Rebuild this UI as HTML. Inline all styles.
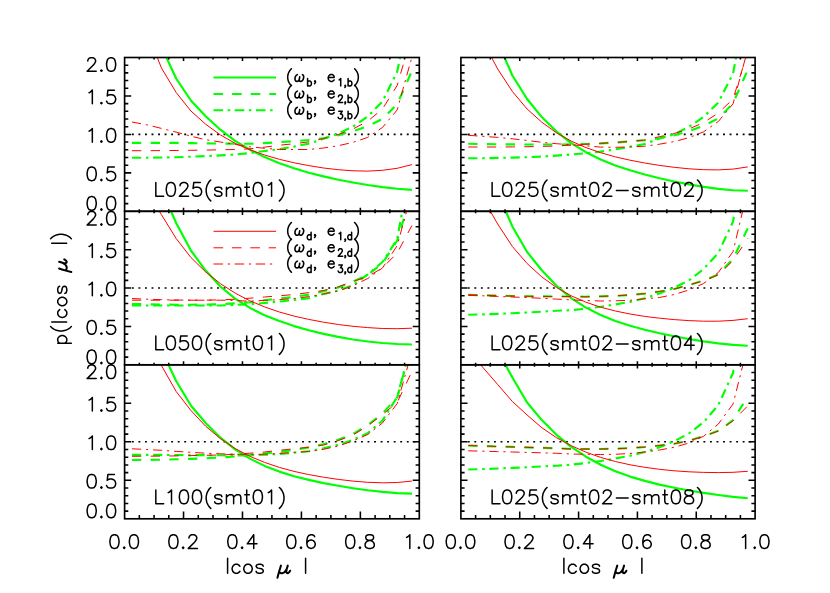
<!DOCTYPE html>
<html><head><meta charset="utf-8"><title>p(|cos mu|)</title>
<style>html,body{margin:0;padding:0;background:#fff;font-family:"Liberation Sans",sans-serif;}svg{display:block;}</style>
</head><body>
<svg width="830" height="593" viewBox="0 0 830 593">
<rect x="0" y="0" width="830" height="593" fill="#fff"/>
<defs>
<clipPath id="c1"><rect x="124.6" y="57.5" width="294.7" height="153.8"/></clipPath>
<clipPath id="c2"><rect x="124.6" y="211.3" width="294.7" height="153.5"/></clipPath>
<clipPath id="c3"><rect x="124.6" y="364.8" width="294.7" height="154"/></clipPath>
<clipPath id="c4"><rect x="460.9" y="57.5" width="294.2" height="153.8"/></clipPath>
<clipPath id="c5"><rect x="460.9" y="211.3" width="294.2" height="153.5"/></clipPath>
<clipPath id="c6"><rect x="460.9" y="364.8" width="294.2" height="154"/></clipPath>
</defs>
<line x1="131.9" y1="134.35" x2="418.3" y2="134.35" stroke="#000" stroke-width="1.7" stroke-dasharray="1.9 4.645"/>
<line x1="131.9" y1="288" x2="418.3" y2="288" stroke="#000" stroke-width="1.7" stroke-dasharray="1.9 4.645"/>
<line x1="131.9" y1="441.75" x2="418.3" y2="441.75" stroke="#000" stroke-width="1.7" stroke-dasharray="1.9 4.645"/>
<line x1="467.8" y1="134.35" x2="754.1" y2="134.35" stroke="#000" stroke-width="1.7" stroke-dasharray="1.9 4.645"/>
<line x1="467.8" y1="288" x2="754.1" y2="288" stroke="#000" stroke-width="1.7" stroke-dasharray="1.9 4.645"/>
<line x1="467.8" y1="441.75" x2="754.1" y2="441.75" stroke="#000" stroke-width="1.7" stroke-dasharray="1.9 4.645"/>
<g clip-path="url(#c1)" fill="none" stroke-linecap="butt" stroke-linejoin="round">
<path d="M131.97 -11.6 L146.7 17.9 L161.44 46.7 L176.17 78.5 L190.91 100.5 L205.64 116.2 L220.38 129.7 L235.11 140.8 L249.85 149.7 L264.58 157.1 L279.32 163.2 L294.05 168.3 L308.79 172.7 L323.52 176.4 L338.26 179.7 L352.99 182.5 L367.73 185 L382.46 187.1 L397.2 188.8 L411.93 189.9" stroke="#00ff00" stroke-width="2.15"/>
<path d="M131.97 142.8 L146.7 142.8 L161.44 142.8 L176.17 142.9 L190.91 143.1 L205.64 143.4 L220.38 143.6 L235.11 143.7 L249.85 143.7 L264.58 143.1 L279.32 142.2 L294.05 141.2 L308.79 140 L323.52 138.3 L338.26 135.2 L352.99 131.2 L367.73 126.2 L382.46 119 L397.2 104.1 L411.93 71.1" stroke="#00ff00" stroke-width="2.15" stroke-dasharray="9.3 9.4"/>
<path d="M131.97 157.8 L146.7 157.7 L161.44 157.5 L176.17 157.2 L190.91 156.7 L205.64 156.1 L220.38 155.4 L235.11 154.5 L249.85 153 L264.58 151 L279.32 149.2 L294.05 146.6 L308.79 143.6 L323.52 138.8 L338.26 133.5 L352.99 126.6 L367.73 116.5 L382.46 101.5 L397.2 71.7 L411.93 -2" stroke="#00ff00" stroke-width="2.15" stroke-dasharray="9.2 4.75 2.5 4.7"/>
<path d="M131.97 10.1 L146.7 31 L161.44 68 L176.17 92.5 L190.91 111 L205.64 124.2 L220.38 134.9 L235.11 143.3 L249.85 149.8 L264.58 155 L279.32 159.3 L294.05 162.8 L308.79 165.6 L323.52 168 L338.26 169.7 L352.99 170.8 L367.73 171.1 L382.46 170.3 L397.2 168.3 L411.93 164.6" stroke="#ff0000" stroke-width="1.0"/>
<path d="M131.97 150.7 L146.7 150.7 L161.44 150.6 L176.17 150.5 L190.91 150.3 L205.64 150.1 L220.38 149.8 L235.11 149.5 L249.85 148.8 L264.58 147.2 L279.32 145.2 L294.05 143.8 L308.79 141.8 L323.52 138.5 L338.26 134.5 L352.99 129 L367.73 121.2 L382.46 109 L397.2 85.4 L411.93 34.7" stroke="#ff0000" stroke-width="1.0" stroke-dasharray="9.3 9.4"/>
<path d="M131.97 122 L146.7 124.8 L161.44 128.4 L176.17 132.1 L190.91 136.2 L205.64 139.7 L220.38 142 L235.11 144.4 L249.85 146.8 L264.58 148.3 L279.32 149.5 L294.05 149.5 L308.79 149.5 L323.52 148 L338.26 145.7 L352.99 142.4 L367.73 137.4 L382.46 127.5 L397.2 109.9 L411.93 57" stroke="#ff0000" stroke-width="1.0" stroke-dasharray="9.2 4.85 2.2 4.85"/>
</g>
<g clip-path="url(#c2)" fill="none" stroke-linecap="butt" stroke-linejoin="round">
<path d="M131.97 113.8 L146.7 150.9 L161.44 189.6 L176.17 223 L190.91 250.5 L205.64 270.6 L220.38 286.5 L235.11 298.6 L249.85 307.9 L264.58 315.2 L279.32 321.1 L294.05 326.1 L308.79 330.3 L323.52 333.9 L338.26 336.9 L352.99 339.5 L367.73 341.5 L382.46 343 L397.2 344 L411.93 344.5" stroke="#00ff00" stroke-width="2.15"/>
<path d="M131.97 304 L146.7 304.3 L161.44 304.5 L176.17 304.7 L190.91 304.7 L205.64 304.6 L220.38 304.2 L235.11 303.3 L249.85 302.2 L264.58 300.3 L279.32 298.5 L294.05 297 L308.79 294.6 L323.52 291.2 L338.26 287.5 L352.99 281.6 L367.73 275 L382.46 263.5 L397.2 240.5 L411.93 192" stroke="#00ff00" stroke-width="2.15" stroke-dasharray="9.3 9.4"/>
<path d="M131.97 305.5 L146.7 305.5 L161.44 305.5 L176.17 305.5 L190.91 305.5 L205.64 305.5 L220.38 305.5 L235.11 304.9 L249.85 304.2 L264.58 303 L279.32 301.5 L294.05 300 L308.79 298.1 L323.52 294 L338.26 290.5 L352.99 285 L367.73 274.5 L382.46 262 L397.2 239 L411.93 158" stroke="#00ff00" stroke-width="2.15" stroke-dasharray="9.2 4.75 2.5 4.7"/>
<path d="M131.97 166.9 L146.7 190.8 L161.44 214.7 L176.17 238.5 L190.91 257.5 L205.64 271.9 L220.38 283.6 L235.11 293.1 L249.85 300.8 L264.58 306.9 L279.32 312 L294.05 316.1 L308.79 319.4 L323.52 322.2 L338.26 324.5 L352.99 326.3 L367.73 327.6 L382.46 328.5 L397.2 328.7 L411.93 328.2" stroke="#ff0000" stroke-width="1.0"/>
<path d="M131.97 300.2 L146.7 300.2 L161.44 300.2 L176.17 300.2 L190.91 300.2 L205.64 300.1 L220.38 299.9 L235.11 299.2 L249.85 298.2 L264.58 297 L279.32 295.8 L294.05 294.5 L308.79 292.6 L323.52 290.5 L338.26 286.8 L352.99 281.5 L367.73 276.5 L382.46 268 L397.2 253 L411.93 225.5" stroke="#ff0000" stroke-width="1.0" stroke-dasharray="9.3 9.4"/>
<path d="M131.97 298.5 L146.7 299.2 L161.44 299.7 L176.17 300 L190.91 300.2 L205.64 300.2 L220.38 300.2 L235.11 300.5 L249.85 301.2 L264.58 300.4 L279.32 299.6 L294.05 298.5 L308.79 296.6 L323.52 294 L338.26 291 L352.99 285.8 L367.73 278.5 L382.46 268 L397.2 245.6 L411.93 191.6" stroke="#ff0000" stroke-width="1.0" stroke-dasharray="9.2 4.85 2.2 4.85"/>
</g>
<g clip-path="url(#c3)" fill="none" stroke-linecap="butt" stroke-linejoin="round">
<path d="M131.97 299.3 L146.7 325.8 L161.44 350 L176.17 381 L190.91 405.5 L205.64 423 L220.38 437.7 L235.11 449.4 L249.85 458.6 L264.58 465.9 L279.32 471.6 L294.05 476.2 L308.79 479.9 L323.52 483.1 L338.26 485.8 L352.99 488.2 L367.73 490.3 L382.46 491.9 L397.2 493.1 L411.93 493.6" stroke="#00ff00" stroke-width="2.15"/>
<path d="M131.97 460 L146.7 459.9 L161.44 459.7 L176.17 459.3 L190.91 458.9 L205.64 458.3 L220.38 457.4 L235.11 456.5 L249.85 455 L264.58 453.5 L279.32 451.8 L294.05 450 L308.79 447.4 L323.52 444.2 L338.26 439.8 L352.99 434 L367.73 425 L382.46 413.5 L397.2 397.5 L411.93 343" stroke="#00ff00" stroke-width="2.15" stroke-dasharray="9.3 9.4"/>
<path d="M131.97 454.8 L146.7 454.8 L161.44 454.9 L176.17 455 L190.91 455.1 L205.64 455.2 L220.38 455.3 L235.11 455.4 L249.85 455.3 L264.58 454.8 L279.32 454 L294.05 452.8 L308.79 451.2 L323.52 448.3 L338.26 444.8 L352.99 439.8 L367.73 433.2 L382.46 420.5 L397.2 397 L411.93 342" stroke="#00ff00" stroke-width="2.15" stroke-dasharray="9.2 4.75 2.5 4.7"/>
<path d="M131.97 317 L146.7 339.6 L161.44 365.5 L176.17 391.5 L190.91 410.5 L205.64 426.2 L220.38 438.6 L235.11 448.5 L249.85 456.3 L264.58 462.4 L279.32 467.4 L294.05 471.4 L308.79 474.6 L323.52 477.2 L338.26 479.4 L352.99 481.1 L367.73 482.3 L382.46 482.8 L397.2 482.5 L411.93 481.1" stroke="#ff0000" stroke-width="1.0"/>
<path d="M131.97 456.3 L146.7 456.2 L161.44 456.1 L176.17 455.9 L190.91 455.6 L205.64 455.3 L220.38 455 L235.11 454.2 L249.85 453.2 L264.58 452 L279.32 450.3 L294.05 448.8 L308.79 447.2 L323.52 445 L338.26 440.6 L352.99 435 L367.73 426 L382.46 414.5 L397.2 402.5 L411.93 371.5" stroke="#ff0000" stroke-width="1.0" stroke-dasharray="9.3 9.4"/>
<path d="M131.97 448.8 L146.7 449.5 L161.44 450.3 L176.17 451.4 L190.91 452.3 L205.64 453.2 L220.38 453.8 L235.11 454.2 L249.85 454.4 L264.58 454.3 L279.32 453.5 L294.05 452.3 L308.79 451.5 L323.52 449.3 L338.26 446 L352.99 441 L367.73 434.5 L382.46 423 L397.2 403.5 L411.93 351.5" stroke="#ff0000" stroke-width="1.0" stroke-dasharray="9.2 4.85 2.2 4.85"/>
</g>
<g clip-path="url(#c4)" fill="none" stroke-linecap="butt" stroke-linejoin="round">
<path d="M468.25 -20 L482.96 11.2 L497.67 42 L512.38 75.5 L527.1 99 L541.8 117.1 L556.51 131.6 L571.23 143.1 L585.94 152.2 L600.64 159.5 L615.36 165.4 L630.07 170.3 L644.78 174.5 L659.49 178.2 L674.2 181.5 L688.9 184.4 L703.62 186.9 L718.33 188.9 L733.04 190.3 L747.75 190.8" stroke="#00ff00" stroke-width="2.15"/>
<path d="M468.25 143.8 L482.96 144.1 L497.67 144.3 L512.38 144.4 L527.1 144.5 L541.8 144.5 L556.51 144.5 L571.23 144.4 L585.94 144 L600.64 143.4 L615.36 142.5 L630.07 141.4 L644.78 140.2 L659.49 138.3 L674.2 135.3 L688.9 131.2 L703.62 125.8 L718.33 118.5 L733.04 103.3 L747.75 69.9" stroke="#00ff00" stroke-width="2.15" stroke-dasharray="9.3 9.4"/>
<path d="M468.25 158.2 L482.96 158.2 L497.67 157.9 L512.38 157.6 L527.1 157.2 L541.8 156.6 L556.51 155.6 L571.23 154.5 L585.94 153.2 L600.64 151.6 L615.36 149.4 L630.07 146.8 L644.78 144 L659.49 138.5 L674.2 134.2 L688.9 127 L703.62 116.8 L718.33 102.5 L733.04 73.5 L747.75 -6" stroke="#00ff00" stroke-width="2.15" stroke-dasharray="9.2 4.75 2.5 4.7"/>
<path d="M468.25 17 L482.96 41 L497.67 69 L512.38 91.5 L527.1 109 L541.8 122.2 L556.51 132.8 L571.23 141.1 L585.94 147.6 L600.64 152.7 L615.36 156.9 L630.07 160.2 L644.78 163 L659.49 165.4 L674.2 167.3 L688.9 168.8 L703.62 169.7 L718.33 169.9 L733.04 169.1 L747.75 166.9" stroke="#ff0000" stroke-width="1.0"/>
<path d="M468.25 147 L482.96 147 L497.67 147 L512.38 146.9 L527.1 146.7 L541.8 146.4 L556.51 146 L571.23 145.1 L585.94 144.2 L600.64 143.4 L615.36 142.5 L630.07 141.4 L644.78 140 L659.49 136.7 L674.2 133.5 L688.9 129 L703.62 122.5 L718.33 113 L733.04 99 L747.75 52" stroke="#ff0000" stroke-width="1.0" stroke-dasharray="9.3 9.4"/>
<path d="M468.25 135.3 L482.96 136.3 L497.67 137.4 L512.38 138.8 L527.1 140.5 L541.8 142.3 L556.51 143.7 L571.23 144.8 L585.94 145.8 L600.64 147.1 L615.36 147.3 L630.07 146.9 L644.78 146.2 L659.49 144.2 L674.2 141.6 L688.9 137.7 L703.62 131.8 L718.33 121.5 L733.04 103.8 L747.75 49.4" stroke="#ff0000" stroke-width="1.0" stroke-dasharray="9.2 4.85 2.2 4.85"/>
</g>
<g clip-path="url(#c5)" fill="none" stroke-linecap="butt" stroke-linejoin="round">
<path d="M468.25 124.3 L482.96 157.8 L497.67 192.4 L512.38 226.5 L527.1 252 L541.8 270.2 L556.51 285.7 L571.23 298.1 L585.94 307.6 L600.64 315 L615.36 320.9 L630.07 325.7 L644.78 329.7 L659.49 333.2 L674.2 336.3 L688.9 339 L703.62 341.4 L718.33 343.4 L733.04 344.9 L747.75 345.7" stroke="#00ff00" stroke-width="2.15"/>
<path d="M468.25 294.8 L482.96 295.3 L497.67 295.7 L512.38 296 L527.1 296.3 L541.8 296.4 L556.51 296.5 L571.23 296.5 L585.94 296.8 L600.64 296.4 L615.36 295.9 L630.07 294.9 L644.78 293.6 L659.49 291.5 L674.2 289 L688.9 285 L703.62 280.5 L718.33 274.5 L733.04 259 L747.75 228.4" stroke="#00ff00" stroke-width="2.15" stroke-dasharray="9.3 9.4"/>
<path d="M468.25 314.7 L482.96 314.4 L497.67 313.9 L512.38 313.2 L527.1 312.5 L541.8 311.7 L556.51 310.7 L571.23 310.2 L585.94 308.7 L600.64 306.8 L615.36 304.4 L630.07 301.9 L644.78 298.3 L659.49 293.4 L674.2 287.7 L688.9 280.5 L703.62 269 L718.33 253 L733.04 221.5 L747.75 133" stroke="#00ff00" stroke-width="2.15" stroke-dasharray="9.2 4.75 2.5 4.7"/>
<path d="M468.25 176.2 L482.96 198.3 L497.67 224 L512.38 246.5 L527.1 263.5 L541.8 276.9 L556.51 287.5 L571.23 295.8 L585.94 302.2 L600.64 307.2 L615.36 311 L630.07 314 L644.78 316.4 L659.49 318.2 L674.2 319.6 L688.9 320.6 L703.62 321.2 L718.33 321.2 L733.04 320.4 L747.75 318.7" stroke="#ff0000" stroke-width="1.0"/>
<path d="M468.25 294.8 L482.96 295.3 L497.67 295.7 L512.38 296 L527.1 296.3 L541.8 296.4 L556.51 296.5 L571.23 296.5 L585.94 296.8 L600.64 296.4 L615.36 295.9 L630.07 294.9 L644.78 293.6 L659.49 291.5 L674.2 289 L688.9 285 L703.62 280.7 L718.33 274.8 L733.04 260.5 L747.75 238.5" stroke="#ff0000" stroke-width="1.0" stroke-dasharray="9.3 9.4"/>
<path d="M468.25 295.3 L482.96 295.8 L497.67 296.4 L512.38 297 L527.1 297.6 L541.8 298.3 L556.51 299.1 L571.23 299.9 L585.94 300.5 L600.64 301 L615.36 300.8 L630.07 300.3 L644.78 298.8 L659.49 297.5 L674.2 294.5 L688.9 290 L703.62 283.5 L718.33 272.5 L733.04 251.5 L747.75 189.8" stroke="#ff0000" stroke-width="1.0" stroke-dasharray="9.2 4.85 2.2 4.85"/>
</g>
<g clip-path="url(#c6)" fill="none" stroke-linecap="butt" stroke-linejoin="round">
<path d="M468.25 284.2 L482.96 315.5 L497.67 350.5 L512.38 377.5 L527.1 402.5 L541.8 420.1 L556.51 434.8 L571.23 446.8 L585.94 456.7 L600.64 464.7 L615.36 471.3 L630.07 476.6 L644.78 480.9 L659.49 484.6 L674.2 487.7 L688.9 490.5 L703.62 492.9 L718.33 495 L733.04 496.9 L747.75 498.3" stroke="#00ff00" stroke-width="2.15"/>
<path d="M468.25 445.5 L482.96 446 L497.67 446.5 L512.38 446.9 L527.1 447.4 L541.8 447.8 L556.51 448.3 L571.23 449 L585.94 449 L600.64 449 L615.36 448.7 L630.07 448.1 L644.78 447 L659.49 445.5 L674.2 443.8 L688.9 440.7 L703.62 436.2 L718.33 430.8 L733.04 420.2 L747.75 396.5" stroke="#00ff00" stroke-width="2.15" stroke-dasharray="9.3 9.4"/>
<path d="M468.25 469.5 L482.96 469.1 L497.67 468.5 L512.38 467.9 L527.1 467.2 L541.8 466.5 L556.51 465.7 L571.23 464.7 L585.94 463 L600.64 461 L615.36 458.5 L630.07 455.7 L644.78 452 L659.49 447.3 L674.2 441.2 L688.9 433.5 L703.62 422.2 L718.33 405 L733.04 373 L747.75 285" stroke="#00ff00" stroke-width="2.15" stroke-dasharray="9.2 4.75 2.5 4.7"/>
<path d="M468.25 349.9 L482.96 367.5 L497.67 384.5 L512.38 401.5 L527.1 415 L541.8 427.7 L556.51 437.7 L571.23 445.7 L585.94 452.2 L600.64 457.4 L615.36 461.5 L630.07 464.8 L644.78 467.3 L659.49 469.3 L674.2 470.8 L688.9 471.8 L703.62 472.4 L718.33 472.6 L733.04 472.3 L747.75 471.3" stroke="#ff0000" stroke-width="1.0"/>
<path d="M468.25 445.5 L482.96 446 L497.67 446.5 L512.38 446.9 L527.1 447.4 L541.8 447.8 L556.51 448.3 L571.23 449 L585.94 449 L600.64 449 L615.36 448.7 L630.07 448.1 L644.78 447 L659.49 445.5 L674.2 443.8 L688.9 440.7 L703.62 436.4 L718.33 431 L733.04 420.8 L747.75 405.8" stroke="#ff0000" stroke-width="1.0" stroke-dasharray="9.3 9.4"/>
<path d="M468.25 450.8 L482.96 451.2 L497.67 451.6 L512.38 452 L527.1 452.4 L541.8 452.8 L556.51 453.3 L571.23 454 L585.94 454.3 L600.64 454.5 L615.36 454.3 L630.07 453.5 L644.78 452 L659.49 450 L674.2 447.3 L688.9 443 L703.62 436.2 L718.33 424 L733.04 404 L747.75 345.8" stroke="#ff0000" stroke-width="1.0" stroke-dasharray="9.2 4.85 2.2 4.85"/>
</g>
<rect x="124.6" y="57.5" width="294.7" height="153.8" fill="none" stroke="#000" stroke-width="1.65"/>
<rect x="124.6" y="211.3" width="294.7" height="153.5" fill="none" stroke="#000" stroke-width="1.65"/>
<rect x="124.6" y="364.8" width="294.7" height="154" fill="none" stroke="#000" stroke-width="1.65"/>
<rect x="460.9" y="57.5" width="294.2" height="153.8" fill="none" stroke="#000" stroke-width="1.65"/>
<rect x="460.9" y="211.3" width="294.2" height="153.5" fill="none" stroke="#000" stroke-width="1.65"/>
<rect x="460.9" y="364.8" width="294.2" height="154" fill="none" stroke="#000" stroke-width="1.65"/>
<path d="M139.34 57.5L139.34 59.5 M139.34 211.3L139.34 209.3 M154.07 57.5L154.07 59.5 M154.07 211.3L154.07 209.3 M168.81 57.5L168.81 59.5 M168.81 211.3L168.81 209.3 M183.54 57.5L183.54 61.1 M183.54 211.3L183.54 207.7 M198.28 57.5L198.28 59.5 M198.28 211.3L198.28 209.3 M213.01 57.5L213.01 59.5 M213.01 211.3L213.01 209.3 M227.75 57.5L227.75 59.5 M227.75 211.3L227.75 209.3 M242.48 57.5L242.48 61.1 M242.48 211.3L242.48 207.7 M257.22 57.5L257.22 59.5 M257.22 211.3L257.22 209.3 M271.95 57.5L271.95 59.5 M271.95 211.3L271.95 209.3 M286.69 57.5L286.69 59.5 M286.69 211.3L286.69 209.3 M301.42 57.5L301.42 61.1 M301.42 211.3L301.42 207.7 M316.15 57.5L316.15 59.5 M316.15 211.3L316.15 209.3 M330.89 57.5L330.89 59.5 M330.89 211.3L330.89 209.3 M345.62 57.5L345.62 59.5 M345.62 211.3L345.62 209.3 M360.36 57.5L360.36 61.1 M360.36 211.3L360.36 207.7 M375.1 57.5L375.1 59.5 M375.1 211.3L375.1 209.3 M389.83 57.5L389.83 59.5 M389.83 211.3L389.83 209.3 M404.57 57.5L404.57 59.5 M404.57 211.3L404.57 209.3 M124.6 203.61L128.3 203.61 M419.3 203.61L415.6 203.61 M124.6 195.92L128.3 195.92 M419.3 195.92L415.6 195.92 M124.6 188.23L128.3 188.23 M419.3 188.23L415.6 188.23 M124.6 180.54L128.3 180.54 M419.3 180.54L415.6 180.54 M124.6 172.85L131.2 172.85 M419.3 172.85L412.7 172.85 M124.6 165.16L128.3 165.16 M419.3 165.16L415.6 165.16 M124.6 157.47L128.3 157.47 M419.3 157.47L415.6 157.47 M124.6 149.78L128.3 149.78 M419.3 149.78L415.6 149.78 M124.6 142.09L128.3 142.09 M419.3 142.09L415.6 142.09 M124.6 134.4L131.2 134.4 M419.3 134.4L412.7 134.4 M124.6 126.71L128.3 126.71 M419.3 126.71L415.6 126.71 M124.6 119.02L128.3 119.02 M419.3 119.02L415.6 119.02 M124.6 111.33L128.3 111.33 M419.3 111.33L415.6 111.33 M124.6 103.64L128.3 103.64 M419.3 103.64L415.6 103.64 M124.6 95.95L131.2 95.95 M419.3 95.95L412.7 95.95 M124.6 88.26L128.3 88.26 M419.3 88.26L415.6 88.26 M124.6 80.57L128.3 80.57 M419.3 80.57L415.6 80.57 M124.6 72.88L128.3 72.88 M419.3 72.88L415.6 72.88 M124.6 65.19L128.3 65.19 M419.3 65.19L415.6 65.19 M139.34 211.3L139.34 213.3 M139.34 364.8L139.34 362.8 M154.07 211.3L154.07 213.3 M154.07 364.8L154.07 362.8 M168.81 211.3L168.81 213.3 M168.81 364.8L168.81 362.8 M183.54 211.3L183.54 214.9 M183.54 364.8L183.54 361.2 M198.28 211.3L198.28 213.3 M198.28 364.8L198.28 362.8 M213.01 211.3L213.01 213.3 M213.01 364.8L213.01 362.8 M227.75 211.3L227.75 213.3 M227.75 364.8L227.75 362.8 M242.48 211.3L242.48 214.9 M242.48 364.8L242.48 361.2 M257.22 211.3L257.22 213.3 M257.22 364.8L257.22 362.8 M271.95 211.3L271.95 213.3 M271.95 364.8L271.95 362.8 M286.69 211.3L286.69 213.3 M286.69 364.8L286.69 362.8 M301.42 211.3L301.42 214.9 M301.42 364.8L301.42 361.2 M316.15 211.3L316.15 213.3 M316.15 364.8L316.15 362.8 M330.89 211.3L330.89 213.3 M330.89 364.8L330.89 362.8 M345.62 211.3L345.62 213.3 M345.62 364.8L345.62 362.8 M360.36 211.3L360.36 214.9 M360.36 364.8L360.36 361.2 M375.1 211.3L375.1 213.3 M375.1 364.8L375.1 362.8 M389.83 211.3L389.83 213.3 M389.83 364.8L389.83 362.8 M404.57 211.3L404.57 213.3 M404.57 364.8L404.57 362.8 M124.6 357.12L128.3 357.12 M419.3 357.12L415.6 357.12 M124.6 349.45L128.3 349.45 M419.3 349.45L415.6 349.45 M124.6 341.78L128.3 341.78 M419.3 341.78L415.6 341.78 M124.6 334.1L128.3 334.1 M419.3 334.1L415.6 334.1 M124.6 326.43L131.2 326.43 M419.3 326.43L412.7 326.43 M124.6 318.75L128.3 318.75 M419.3 318.75L415.6 318.75 M124.6 311.07L128.3 311.07 M419.3 311.07L415.6 311.07 M124.6 303.4L128.3 303.4 M419.3 303.4L415.6 303.4 M124.6 295.73L128.3 295.73 M419.3 295.73L415.6 295.73 M124.6 288.05L131.2 288.05 M419.3 288.05L412.7 288.05 M124.6 280.38L128.3 280.38 M419.3 280.38L415.6 280.38 M124.6 272.7L128.3 272.7 M419.3 272.7L415.6 272.7 M124.6 265.02L128.3 265.02 M419.3 265.02L415.6 265.02 M124.6 257.35L128.3 257.35 M419.3 257.35L415.6 257.35 M124.6 249.68L131.2 249.68 M419.3 249.68L412.7 249.68 M124.6 242L128.3 242 M419.3 242L415.6 242 M124.6 234.33L128.3 234.33 M419.3 234.33L415.6 234.33 M124.6 226.65L128.3 226.65 M419.3 226.65L415.6 226.65 M124.6 218.98L128.3 218.98 M419.3 218.98L415.6 218.98 M139.34 518.8L139.34 515 M154.07 518.8L154.07 515 M168.81 518.8L168.81 515 M183.54 518.8L183.54 511.6 M198.28 518.8L198.28 515 M213.01 518.8L213.01 515 M227.75 518.8L227.75 515 M242.48 518.8L242.48 511.6 M257.22 518.8L257.22 515 M271.95 518.8L271.95 515 M286.69 518.8L286.69 515 M301.42 518.8L301.42 511.6 M316.15 518.8L316.15 515 M330.89 518.8L330.89 515 M345.62 518.8L345.62 515 M360.36 518.8L360.36 511.6 M375.1 518.8L375.1 515 M389.83 518.8L389.83 515 M404.57 518.8L404.57 515 M124.6 511.1L128.3 511.1 M419.3 511.1L415.6 511.1 M124.6 503.4L128.3 503.4 M419.3 503.4L415.6 503.4 M124.6 495.7L128.3 495.7 M419.3 495.7L415.6 495.7 M124.6 488L128.3 488 M419.3 488L415.6 488 M124.6 480.3L131.2 480.3 M419.3 480.3L412.7 480.3 M124.6 472.6L128.3 472.6 M419.3 472.6L415.6 472.6 M124.6 464.9L128.3 464.9 M419.3 464.9L415.6 464.9 M124.6 457.2L128.3 457.2 M419.3 457.2L415.6 457.2 M124.6 449.5L128.3 449.5 M419.3 449.5L415.6 449.5 M124.6 441.8L131.2 441.8 M419.3 441.8L412.7 441.8 M124.6 434.1L128.3 434.1 M419.3 434.1L415.6 434.1 M124.6 426.4L128.3 426.4 M419.3 426.4L415.6 426.4 M124.6 418.7L128.3 418.7 M419.3 418.7L415.6 418.7 M124.6 411L128.3 411 M419.3 411L415.6 411 M124.6 403.3L131.2 403.3 M419.3 403.3L412.7 403.3 M124.6 395.6L128.3 395.6 M419.3 395.6L415.6 395.6 M124.6 387.9L128.3 387.9 M419.3 387.9L415.6 387.9 M124.6 380.2L128.3 380.2 M419.3 380.2L415.6 380.2 M124.6 372.5L128.3 372.5 M419.3 372.5L415.6 372.5 M475.61 57.5L475.61 59.5 M475.61 211.3L475.61 209.3 M490.32 57.5L490.32 59.5 M490.32 211.3L490.32 209.3 M505.03 57.5L505.03 59.5 M505.03 211.3L505.03 209.3 M519.74 57.5L519.74 61.1 M519.74 211.3L519.74 207.7 M534.45 57.5L534.45 59.5 M534.45 211.3L534.45 209.3 M549.16 57.5L549.16 59.5 M549.16 211.3L549.16 209.3 M563.87 57.5L563.87 59.5 M563.87 211.3L563.87 209.3 M578.58 57.5L578.58 61.1 M578.58 211.3L578.58 207.7 M593.29 57.5L593.29 59.5 M593.29 211.3L593.29 209.3 M608 57.5L608 59.5 M608 211.3L608 209.3 M622.71 57.5L622.71 59.5 M622.71 211.3L622.71 209.3 M637.42 57.5L637.42 61.1 M637.42 211.3L637.42 207.7 M652.13 57.5L652.13 59.5 M652.13 211.3L652.13 209.3 M666.84 57.5L666.84 59.5 M666.84 211.3L666.84 209.3 M681.55 57.5L681.55 59.5 M681.55 211.3L681.55 209.3 M696.26 57.5L696.26 61.1 M696.26 211.3L696.26 207.7 M710.97 57.5L710.97 59.5 M710.97 211.3L710.97 209.3 M725.68 57.5L725.68 59.5 M725.68 211.3L725.68 209.3 M740.39 57.5L740.39 59.5 M740.39 211.3L740.39 209.3 M460.9 203.61L464.6 203.61 M755.1 203.61L751.4 203.61 M460.9 195.92L464.6 195.92 M755.1 195.92L751.4 195.92 M460.9 188.23L464.6 188.23 M755.1 188.23L751.4 188.23 M460.9 180.54L464.6 180.54 M755.1 180.54L751.4 180.54 M460.9 172.85L467.5 172.85 M755.1 172.85L748.5 172.85 M460.9 165.16L464.6 165.16 M755.1 165.16L751.4 165.16 M460.9 157.47L464.6 157.47 M755.1 157.47L751.4 157.47 M460.9 149.78L464.6 149.78 M755.1 149.78L751.4 149.78 M460.9 142.09L464.6 142.09 M755.1 142.09L751.4 142.09 M460.9 134.4L467.5 134.4 M755.1 134.4L748.5 134.4 M460.9 126.71L464.6 126.71 M755.1 126.71L751.4 126.71 M460.9 119.02L464.6 119.02 M755.1 119.02L751.4 119.02 M460.9 111.33L464.6 111.33 M755.1 111.33L751.4 111.33 M460.9 103.64L464.6 103.64 M755.1 103.64L751.4 103.64 M460.9 95.95L467.5 95.95 M755.1 95.95L748.5 95.95 M460.9 88.26L464.6 88.26 M755.1 88.26L751.4 88.26 M460.9 80.57L464.6 80.57 M755.1 80.57L751.4 80.57 M460.9 72.88L464.6 72.88 M755.1 72.88L751.4 72.88 M460.9 65.19L464.6 65.19 M755.1 65.19L751.4 65.19 M475.61 211.3L475.61 213.3 M475.61 364.8L475.61 362.8 M490.32 211.3L490.32 213.3 M490.32 364.8L490.32 362.8 M505.03 211.3L505.03 213.3 M505.03 364.8L505.03 362.8 M519.74 211.3L519.74 214.9 M519.74 364.8L519.74 361.2 M534.45 211.3L534.45 213.3 M534.45 364.8L534.45 362.8 M549.16 211.3L549.16 213.3 M549.16 364.8L549.16 362.8 M563.87 211.3L563.87 213.3 M563.87 364.8L563.87 362.8 M578.58 211.3L578.58 214.9 M578.58 364.8L578.58 361.2 M593.29 211.3L593.29 213.3 M593.29 364.8L593.29 362.8 M608 211.3L608 213.3 M608 364.8L608 362.8 M622.71 211.3L622.71 213.3 M622.71 364.8L622.71 362.8 M637.42 211.3L637.42 214.9 M637.42 364.8L637.42 361.2 M652.13 211.3L652.13 213.3 M652.13 364.8L652.13 362.8 M666.84 211.3L666.84 213.3 M666.84 364.8L666.84 362.8 M681.55 211.3L681.55 213.3 M681.55 364.8L681.55 362.8 M696.26 211.3L696.26 214.9 M696.26 364.8L696.26 361.2 M710.97 211.3L710.97 213.3 M710.97 364.8L710.97 362.8 M725.68 211.3L725.68 213.3 M725.68 364.8L725.68 362.8 M740.39 211.3L740.39 213.3 M740.39 364.8L740.39 362.8 M460.9 357.12L464.6 357.12 M755.1 357.12L751.4 357.12 M460.9 349.45L464.6 349.45 M755.1 349.45L751.4 349.45 M460.9 341.78L464.6 341.78 M755.1 341.78L751.4 341.78 M460.9 334.1L464.6 334.1 M755.1 334.1L751.4 334.1 M460.9 326.43L467.5 326.43 M755.1 326.43L748.5 326.43 M460.9 318.75L464.6 318.75 M755.1 318.75L751.4 318.75 M460.9 311.07L464.6 311.07 M755.1 311.07L751.4 311.07 M460.9 303.4L464.6 303.4 M755.1 303.4L751.4 303.4 M460.9 295.73L464.6 295.73 M755.1 295.73L751.4 295.73 M460.9 288.05L467.5 288.05 M755.1 288.05L748.5 288.05 M460.9 280.38L464.6 280.38 M755.1 280.38L751.4 280.38 M460.9 272.7L464.6 272.7 M755.1 272.7L751.4 272.7 M460.9 265.02L464.6 265.02 M755.1 265.02L751.4 265.02 M460.9 257.35L464.6 257.35 M755.1 257.35L751.4 257.35 M460.9 249.68L467.5 249.68 M755.1 249.68L748.5 249.68 M460.9 242L464.6 242 M755.1 242L751.4 242 M460.9 234.33L464.6 234.33 M755.1 234.33L751.4 234.33 M460.9 226.65L464.6 226.65 M755.1 226.65L751.4 226.65 M460.9 218.98L464.6 218.98 M755.1 218.98L751.4 218.98 M475.61 364.8L475.61 366.8 M475.61 518.8L475.61 515 M490.32 364.8L490.32 366.8 M490.32 518.8L490.32 515 M505.03 364.8L505.03 366.8 M505.03 518.8L505.03 515 M519.74 364.8L519.74 368.4 M519.74 518.8L519.74 511.6 M534.45 364.8L534.45 366.8 M534.45 518.8L534.45 515 M549.16 364.8L549.16 366.8 M549.16 518.8L549.16 515 M563.87 364.8L563.87 366.8 M563.87 518.8L563.87 515 M578.58 364.8L578.58 368.4 M578.58 518.8L578.58 511.6 M593.29 364.8L593.29 366.8 M593.29 518.8L593.29 515 M608 364.8L608 366.8 M608 518.8L608 515 M622.71 364.8L622.71 366.8 M622.71 518.8L622.71 515 M637.42 364.8L637.42 368.4 M637.42 518.8L637.42 511.6 M652.13 364.8L652.13 366.8 M652.13 518.8L652.13 515 M666.84 364.8L666.84 366.8 M666.84 518.8L666.84 515 M681.55 364.8L681.55 366.8 M681.55 518.8L681.55 515 M696.26 364.8L696.26 368.4 M696.26 518.8L696.26 511.6 M710.97 364.8L710.97 366.8 M710.97 518.8L710.97 515 M725.68 364.8L725.68 366.8 M725.68 518.8L725.68 515 M740.39 364.8L740.39 366.8 M740.39 518.8L740.39 515 M460.9 511.1L464.6 511.1 M755.1 511.1L751.4 511.1 M460.9 503.4L464.6 503.4 M755.1 503.4L751.4 503.4 M460.9 495.7L464.6 495.7 M755.1 495.7L751.4 495.7 M460.9 488L464.6 488 M755.1 488L751.4 488 M460.9 480.3L467.5 480.3 M755.1 480.3L748.5 480.3 M460.9 472.6L464.6 472.6 M755.1 472.6L751.4 472.6 M460.9 464.9L464.6 464.9 M755.1 464.9L751.4 464.9 M460.9 457.2L464.6 457.2 M755.1 457.2L751.4 457.2 M460.9 449.5L464.6 449.5 M755.1 449.5L751.4 449.5 M460.9 441.8L467.5 441.8 M755.1 441.8L748.5 441.8 M460.9 434.1L464.6 434.1 M755.1 434.1L751.4 434.1 M460.9 426.4L464.6 426.4 M755.1 426.4L751.4 426.4 M460.9 418.7L464.6 418.7 M755.1 418.7L751.4 418.7 M460.9 411L464.6 411 M755.1 411L751.4 411 M460.9 403.3L467.5 403.3 M755.1 403.3L748.5 403.3 M460.9 395.6L464.6 395.6 M755.1 395.6L751.4 395.6 M460.9 387.9L464.6 387.9 M755.1 387.9L751.4 387.9 M460.9 380.2L464.6 380.2 M755.1 380.2L751.4 380.2 M460.9 372.5L464.6 372.5 M755.1 372.5L751.4 372.5" stroke="#000" stroke-width="1.55" fill="none"/>
<g fill="none" stroke="#000" stroke-linecap="round" stroke-linejoin="round">
<path d="M87.79 60.93 L87.79 60.28 L88.44 58.99 L89.09 58.34 L90.38 57.69 L92.98 57.69 L94.27 58.34 L94.92 58.99 L95.57 60.28 L95.57 61.58 L94.92 62.88 L93.62 64.82 L87.14 71.3 L96.22 71.3M101.4 70 L100.75 70.65 L101.4 71.3 L102.05 70.65 L101.4 70M110.47 57.69 L108.53 58.34 L107.23 60.28 L106.58 63.52 L106.58 65.47 L107.23 68.71 L108.53 70.65 L110.47 71.3 L111.77 71.3 L113.71 70.65 L115.01 68.71 L115.66 65.47 L115.66 63.52 L115.01 60.28 L113.71 58.34 L111.77 57.69 L110.47 57.69M89.09 92.73 L90.38 92.09 L92.33 90.14 L92.33 103.75M101.4 102.45 L100.75 103.1 L101.4 103.75 L102.05 103.1 L101.4 102.45M114.36 90.14 L107.88 90.14 L107.23 95.97 L107.88 95.33 L109.82 94.68 L111.77 94.68 L113.71 95.33 L115.01 96.62 L115.66 98.57 L115.66 99.86 L115.01 101.81 L113.71 103.1 L111.77 103.75 L109.82 103.75 L107.88 103.1 L107.23 102.45 L106.58 101.16M89.09 131.18 L90.38 130.54 L92.33 128.59 L92.33 142.2M101.4 140.9 L100.75 141.55 L101.4 142.2 L102.05 141.55 L101.4 140.9M110.47 128.59 L108.53 129.24 L107.23 131.18 L106.58 134.42 L106.58 136.37 L107.23 139.61 L108.53 141.55 L110.47 142.2 L111.77 142.2 L113.71 141.55 L115.01 139.61 L115.66 136.37 L115.66 134.42 L115.01 131.18 L113.71 129.24 L111.77 128.59 L110.47 128.59M91.03 167.04 L89.09 167.69 L87.79 169.63 L87.14 172.87 L87.14 174.82 L87.79 178.06 L89.09 180 L91.03 180.65 L92.33 180.65 L94.27 180 L95.57 178.06 L96.22 174.82 L96.22 172.87 L95.57 169.63 L94.27 167.69 L92.33 167.04 L91.03 167.04M101.4 179.35 L100.75 180 L101.4 180.65 L102.05 180 L101.4 179.35M114.36 167.04 L107.88 167.04 L107.23 172.87 L107.88 172.23 L109.82 171.58 L111.77 171.58 L113.71 172.23 L115.01 173.52 L115.66 175.47 L115.66 176.76 L115.01 178.71 L113.71 180 L111.77 180.65 L109.82 180.65 L107.88 180 L107.23 179.35 L106.58 178.06M91.03 196.59 L89.09 197.24 L87.79 199.18 L87.14 202.42 L87.14 204.37 L87.79 207.61 L89.09 209.55 L91.03 210.2 L92.33 210.2 L94.27 209.55 L95.57 207.61 L96.22 204.37 L96.22 202.42 L95.57 199.18 L94.27 197.24 L92.33 196.59 L91.03 196.59M101.4 208.9 L100.75 209.55 L101.4 210.2 L102.05 209.55 L101.4 208.9M110.47 196.59 L108.53 197.24 L107.23 199.18 L106.58 202.42 L106.58 204.37 L107.23 207.61 L108.53 209.55 L110.47 210.2 L111.77 210.2 L113.71 209.55 L115.01 207.61 L115.66 204.37 L115.66 202.42 L115.01 199.18 L113.71 197.24 L111.77 196.59 L110.47 196.59M87.79 214.73 L87.79 214.08 L88.44 212.79 L89.09 212.14 L90.38 211.49 L92.98 211.49 L94.27 212.14 L94.92 212.79 L95.57 214.08 L95.57 215.38 L94.92 216.68 L93.62 218.62 L87.14 225.1 L96.22 225.1M101.4 223.8 L100.75 224.45 L101.4 225.1 L102.05 224.45 L101.4 223.8M110.47 211.49 L108.53 212.14 L107.23 214.08 L106.58 217.32 L106.58 219.27 L107.23 222.51 L108.53 224.45 L110.47 225.1 L111.77 225.1 L113.71 224.45 L115.01 222.51 L115.66 219.27 L115.66 217.32 L115.01 214.08 L113.71 212.14 L111.77 211.49 L110.47 211.49M89.09 246.46 L90.38 245.81 L92.33 243.87 L92.33 257.48M101.4 256.18 L100.75 256.83 L101.4 257.48 L102.05 256.83 L101.4 256.18M114.36 243.87 L107.88 243.87 L107.23 249.7 L107.88 249.05 L109.82 248.4 L111.77 248.4 L113.71 249.05 L115.01 250.35 L115.66 252.29 L115.66 253.59 L115.01 255.53 L113.71 256.83 L111.77 257.48 L109.82 257.48 L107.88 256.83 L107.23 256.18 L106.58 254.88M89.09 284.83 L90.38 284.19 L92.33 282.24 L92.33 295.85M101.4 294.55 L100.75 295.2 L101.4 295.85 L102.05 295.2 L101.4 294.55M110.47 282.24 L108.53 282.89 L107.23 284.83 L106.58 288.07 L106.58 290.02 L107.23 293.26 L108.53 295.2 L110.47 295.85 L111.77 295.85 L113.71 295.2 L115.01 293.26 L115.66 290.02 L115.66 288.07 L115.01 284.83 L113.71 282.89 L111.77 282.24 L110.47 282.24M91.03 320.62 L89.09 321.27 L87.79 323.21 L87.14 326.45 L87.14 328.39 L87.79 331.63 L89.09 333.58 L91.03 334.23 L92.33 334.23 L94.27 333.58 L95.57 331.63 L96.22 328.39 L96.22 326.45 L95.57 323.21 L94.27 321.27 L92.33 320.62 L91.03 320.62M101.4 332.93 L100.75 333.58 L101.4 334.23 L102.05 333.58 L101.4 332.93M114.36 320.62 L107.88 320.62 L107.23 326.45 L107.88 325.8 L109.82 325.15 L111.77 325.15 L113.71 325.8 L115.01 327.1 L115.66 329.04 L115.66 330.34 L115.01 332.28 L113.71 333.58 L111.77 334.23 L109.82 334.23 L107.88 333.58 L107.23 332.93 L106.58 331.63M91.03 350.09 L89.09 350.74 L87.79 352.68 L87.14 355.92 L87.14 357.87 L87.79 361.11 L89.09 363.05 L91.03 363.7 L92.33 363.7 L94.27 363.05 L95.57 361.11 L96.22 357.87 L96.22 355.92 L95.57 352.68 L94.27 350.74 L92.33 350.09 L91.03 350.09M101.4 362.4 L100.75 363.05 L101.4 363.7 L102.05 363.05 L101.4 362.4M110.47 350.09 L108.53 350.74 L107.23 352.68 L106.58 355.92 L106.58 357.87 L107.23 361.11 L108.53 363.05 L110.47 363.7 L111.77 363.7 L113.71 363.05 L115.01 361.11 L115.66 357.87 L115.66 355.92 L115.01 352.68 L113.71 350.74 L111.77 350.09 L110.47 350.09M87.79 368.23 L87.79 367.58 L88.44 366.29 L89.09 365.64 L90.38 364.99 L92.98 364.99 L94.27 365.64 L94.92 366.29 L95.57 367.58 L95.57 368.88 L94.92 370.18 L93.62 372.12 L87.14 378.6 L96.22 378.6M101.4 377.3 L100.75 377.95 L101.4 378.6 L102.05 377.95 L101.4 377.3M110.47 364.99 L108.53 365.64 L107.23 367.58 L106.58 370.82 L106.58 372.77 L107.23 376.01 L108.53 377.95 L110.47 378.6 L111.77 378.6 L113.71 377.95 L115.01 376.01 L115.66 372.77 L115.66 370.82 L115.01 367.58 L113.71 365.64 L111.77 364.99 L110.47 364.99M89.09 400.08 L90.38 399.44 L92.33 397.49 L92.33 411.1M101.4 409.8 L100.75 410.45 L101.4 411.1 L102.05 410.45 L101.4 409.8M114.36 397.49 L107.88 397.49 L107.23 403.32 L107.88 402.68 L109.82 402.03 L111.77 402.03 L113.71 402.68 L115.01 403.97 L115.66 405.92 L115.66 407.21 L115.01 409.16 L113.71 410.45 L111.77 411.1 L109.82 411.1 L107.88 410.45 L107.23 409.8 L106.58 408.51M89.09 438.58 L90.38 437.94 L92.33 435.99 L92.33 449.6M101.4 448.3 L100.75 448.95 L101.4 449.6 L102.05 448.95 L101.4 448.3M110.47 435.99 L108.53 436.64 L107.23 438.58 L106.58 441.82 L106.58 443.77 L107.23 447.01 L108.53 448.95 L110.47 449.6 L111.77 449.6 L113.71 448.95 L115.01 447.01 L115.66 443.77 L115.66 441.82 L115.01 438.58 L113.71 436.64 L111.77 435.99 L110.47 435.99M91.03 474.49 L89.09 475.14 L87.79 477.08 L87.14 480.32 L87.14 482.27 L87.79 485.51 L89.09 487.45 L91.03 488.1 L92.33 488.1 L94.27 487.45 L95.57 485.51 L96.22 482.27 L96.22 480.32 L95.57 477.08 L94.27 475.14 L92.33 474.49 L91.03 474.49M101.4 486.8 L100.75 487.45 L101.4 488.1 L102.05 487.45 L101.4 486.8M114.36 474.49 L107.88 474.49 L107.23 480.32 L107.88 479.68 L109.82 479.03 L111.77 479.03 L113.71 479.68 L115.01 480.97 L115.66 482.92 L115.66 484.21 L115.01 486.16 L113.71 487.45 L111.77 488.1 L109.82 488.1 L107.88 487.45 L107.23 486.8 L106.58 485.51M91.03 504.09 L89.09 504.74 L87.79 506.68 L87.14 509.92 L87.14 511.87 L87.79 515.11 L89.09 517.05 L91.03 517.7 L92.33 517.7 L94.27 517.05 L95.57 515.11 L96.22 511.87 L96.22 509.92 L95.57 506.68 L94.27 504.74 L92.33 504.09 L91.03 504.09M101.4 516.4 L100.75 517.05 L101.4 517.7 L102.05 517.05 L101.4 516.4M110.47 504.09 L108.53 504.74 L107.23 506.68 L106.58 509.92 L106.58 511.87 L107.23 515.11 L108.53 517.05 L110.47 517.7 L111.77 517.7 L113.71 517.05 L115.01 515.11 L115.66 511.87 L115.66 509.92 L115.01 506.68 L113.71 504.74 L111.77 504.09 L110.47 504.09M113.83 534.79 L111.89 535.44 L110.59 537.38 L109.94 540.62 L109.94 542.57 L110.59 545.81 L111.89 547.75 L113.83 548.4 L115.13 548.4 L117.07 547.75 L118.37 545.81 L119.02 542.57 L119.02 540.62 L118.37 537.38 L117.07 535.44 L115.13 534.79 L113.83 534.79M124.2 547.1 L123.55 547.75 L124.2 548.4 L124.85 547.75 L124.2 547.1M133.27 534.79 L131.33 535.44 L130.03 537.38 L129.38 540.62 L129.38 542.57 L130.03 545.81 L131.33 547.75 L133.27 548.4 L134.57 548.4 L136.51 547.75 L137.81 545.81 L138.46 542.57 L138.46 540.62 L137.81 537.38 L136.51 535.44 L134.57 534.79 L133.27 534.79M172.77 534.79 L170.83 535.44 L169.53 537.38 L168.88 540.62 L168.88 542.57 L169.53 545.81 L170.83 547.75 L172.77 548.4 L174.07 548.4 L176.01 547.75 L177.31 545.81 L177.96 542.57 L177.96 540.62 L177.31 537.38 L176.01 535.44 L174.07 534.79 L172.77 534.79M183.14 547.1 L182.49 547.75 L183.14 548.4 L183.79 547.75 L183.14 547.1M188.97 538.03 L188.97 537.38 L189.62 536.09 L190.27 535.44 L191.56 534.79 L194.16 534.79 L195.45 535.44 L196.1 536.09 L196.75 537.38 L196.75 538.68 L196.1 539.98 L194.8 541.92 L188.32 548.4 L197.4 548.4M231.71 534.79 L229.77 535.44 L228.47 537.38 L227.82 540.62 L227.82 542.57 L228.47 545.81 L229.77 547.75 L231.71 548.4 L233.01 548.4 L234.95 547.75 L236.25 545.81 L236.9 542.57 L236.9 540.62 L236.25 537.38 L234.95 535.44 L233.01 534.79 L231.71 534.79M242.08 547.1 L241.43 547.75 L242.08 548.4 L242.73 547.75 L242.08 547.1M253.74 534.79 L247.26 543.86 L256.98 543.86M253.74 534.79 L253.74 548.4M290.65 534.79 L288.71 535.44 L287.41 537.38 L286.76 540.62 L286.76 542.57 L287.41 545.81 L288.71 547.75 L290.65 548.4 L291.95 548.4 L293.89 547.75 L295.19 545.81 L295.84 542.57 L295.84 540.62 L295.19 537.38 L293.89 535.44 L291.95 534.79 L290.65 534.79M301.02 547.1 L300.37 547.75 L301.02 548.4 L301.67 547.75 L301.02 547.1M314.63 536.74 L313.98 535.44 L312.04 534.79 L310.74 534.79 L308.8 535.44 L307.5 537.38 L306.85 540.62 L306.85 543.86 L307.5 546.46 L308.8 547.75 L310.74 548.4 L311.39 548.4 L313.33 547.75 L314.63 546.46 L315.28 544.51 L315.28 543.86 L314.63 541.92 L313.33 540.62 L311.39 539.98 L310.74 539.98 L308.8 540.62 L307.5 541.92 L306.85 543.86M349.59 534.79 L347.65 535.44 L346.35 537.38 L345.7 540.62 L345.7 542.57 L346.35 545.81 L347.65 547.75 L349.59 548.4 L350.89 548.4 L352.83 547.75 L354.13 545.81 L354.78 542.57 L354.78 540.62 L354.13 537.38 L352.83 535.44 L350.89 534.79 L349.59 534.79M359.96 547.1 L359.31 547.75 L359.96 548.4 L360.61 547.75 L359.96 547.1M368.38 534.79 L366.44 535.44 L365.79 536.74 L365.79 538.03 L366.44 539.33 L367.74 539.98 L370.33 540.62 L372.27 541.27 L373.57 542.57 L374.22 543.86 L374.22 545.81 L373.57 547.1 L372.92 547.75 L370.98 548.4 L368.38 548.4 L366.44 547.75 L365.79 547.1 L365.14 545.81 L365.14 543.86 L365.79 542.57 L367.09 541.27 L369.03 540.62 L371.62 539.98 L372.92 539.33 L373.57 538.03 L373.57 536.74 L372.92 535.44 L370.98 534.79 L368.38 534.79M406.59 537.38 L407.88 536.74 L409.83 534.79 L409.83 548.4M418.9 547.1 L418.25 547.75 L418.9 548.4 L419.55 547.75 L418.9 547.1M427.97 534.79 L426.03 535.44 L424.73 537.38 L424.08 540.62 L424.08 542.57 L424.73 545.81 L426.03 547.75 L427.97 548.4 L429.27 548.4 L431.21 547.75 L432.51 545.81 L433.16 542.57 L433.16 540.62 L432.51 537.38 L431.21 535.44 L429.27 534.79 L427.97 534.79M450.13 534.79 L448.19 535.44 L446.89 537.38 L446.24 540.62 L446.24 542.57 L446.89 545.81 L448.19 547.75 L450.13 548.4 L451.43 548.4 L453.37 547.75 L454.67 545.81 L455.32 542.57 L455.32 540.62 L454.67 537.38 L453.37 535.44 L451.43 534.79 L450.13 534.79M460.5 547.1 L459.85 547.75 L460.5 548.4 L461.15 547.75 L460.5 547.1M469.57 534.79 L467.63 535.44 L466.33 537.38 L465.68 540.62 L465.68 542.57 L466.33 545.81 L467.63 547.75 L469.57 548.4 L470.87 548.4 L472.81 547.75 L474.11 545.81 L474.76 542.57 L474.76 540.62 L474.11 537.38 L472.81 535.44 L470.87 534.79 L469.57 534.79M508.97 534.79 L507.03 535.44 L505.73 537.38 L505.08 540.62 L505.08 542.57 L505.73 545.81 L507.03 547.75 L508.97 548.4 L510.27 548.4 L512.21 547.75 L513.51 545.81 L514.16 542.57 L514.16 540.62 L513.51 537.38 L512.21 535.44 L510.27 534.79 L508.97 534.79M519.34 547.1 L518.69 547.75 L519.34 548.4 L519.99 547.75 L519.34 547.1M525.17 538.03 L525.17 537.38 L525.82 536.09 L526.47 535.44 L527.76 534.79 L530.36 534.79 L531.65 535.44 L532.3 536.09 L532.95 537.38 L532.95 538.68 L532.3 539.98 L531 541.92 L524.52 548.4 L533.6 548.4M567.81 534.79 L565.87 535.44 L564.57 537.38 L563.92 540.62 L563.92 542.57 L564.57 545.81 L565.87 547.75 L567.81 548.4 L569.11 548.4 L571.05 547.75 L572.35 545.81 L573 542.57 L573 540.62 L572.35 537.38 L571.05 535.44 L569.11 534.79 L567.81 534.79M578.18 547.1 L577.53 547.75 L578.18 548.4 L578.83 547.75 L578.18 547.1M589.84 534.79 L583.36 543.86 L593.08 543.86M589.84 534.79 L589.84 548.4M626.65 534.79 L624.71 535.44 L623.41 537.38 L622.76 540.62 L622.76 542.57 L623.41 545.81 L624.71 547.75 L626.65 548.4 L627.95 548.4 L629.89 547.75 L631.19 545.81 L631.84 542.57 L631.84 540.62 L631.19 537.38 L629.89 535.44 L627.95 534.79 L626.65 534.79M637.02 547.1 L636.37 547.75 L637.02 548.4 L637.67 547.75 L637.02 547.1M650.63 536.74 L649.98 535.44 L648.04 534.79 L646.74 534.79 L644.8 535.44 L643.5 537.38 L642.85 540.62 L642.85 543.86 L643.5 546.46 L644.8 547.75 L646.74 548.4 L647.39 548.4 L649.33 547.75 L650.63 546.46 L651.28 544.51 L651.28 543.86 L650.63 541.92 L649.33 540.62 L647.39 539.98 L646.74 539.98 L644.8 540.62 L643.5 541.92 L642.85 543.86M685.49 534.79 L683.55 535.44 L682.25 537.38 L681.6 540.62 L681.6 542.57 L682.25 545.81 L683.55 547.75 L685.49 548.4 L686.79 548.4 L688.73 547.75 L690.03 545.81 L690.68 542.57 L690.68 540.62 L690.03 537.38 L688.73 535.44 L686.79 534.79 L685.49 534.79M695.86 547.1 L695.21 547.75 L695.86 548.4 L696.51 547.75 L695.86 547.1M704.28 534.79 L702.34 535.44 L701.69 536.74 L701.69 538.03 L702.34 539.33 L703.64 539.98 L706.23 540.62 L708.17 541.27 L709.47 542.57 L710.12 543.86 L710.12 545.81 L709.47 547.1 L708.82 547.75 L706.88 548.4 L704.28 548.4 L702.34 547.75 L701.69 547.1 L701.04 545.81 L701.04 543.86 L701.69 542.57 L702.99 541.27 L704.93 540.62 L707.52 539.98 L708.82 539.33 L709.47 538.03 L709.47 536.74 L708.82 535.44 L706.88 534.79 L704.28 534.79M742.39 537.38 L743.68 536.74 L745.63 534.79 L745.63 548.4M754.7 547.1 L754.05 547.75 L754.7 548.4 L755.35 547.75 L754.7 547.1M763.77 534.79 L761.83 535.44 L760.53 537.38 L759.88 540.62 L759.88 542.57 L760.53 545.81 L761.83 547.75 L763.77 548.4 L765.07 548.4 L767.01 547.75 L768.31 545.81 L768.96 542.57 L768.96 540.62 L768.31 537.38 L767.01 535.44 L765.07 534.79 L763.77 534.79M155.82 182.57 L155.82 196.3M155.82 196.3 L163.66 196.3M170.2 182.57 L168.24 183.22 L166.93 185.18 L166.28 188.45 L166.28 190.41 L166.93 193.68 L168.24 195.65 L170.2 196.3 L171.51 196.3 L173.47 195.65 L174.78 193.68 L175.44 190.41 L175.44 188.45 L174.78 185.18 L173.47 183.22 L171.51 182.57 L170.2 182.57M180.01 185.84 L180.01 185.18 L180.67 183.87 L181.32 183.22 L182.63 182.57 L185.25 182.57 L186.55 183.22 L187.21 183.87 L187.86 185.18 L187.86 186.49 L187.21 187.8 L185.9 189.76 L179.36 196.3 L188.52 196.3M200.29 182.57 L193.75 182.57 L193.09 188.45 L193.75 187.8 L195.71 187.14 L197.67 187.14 L199.63 187.8 L200.94 189.11 L201.6 191.07 L201.6 192.38 L200.94 194.34 L199.63 195.65 L197.67 196.3 L195.71 196.3 L193.75 195.65 L193.09 194.99 L192.44 193.68M210.75 179.95 L209.44 181.26 L208.14 183.22 L206.83 185.84 L206.17 189.11 L206.17 191.72 L206.83 194.99 L208.14 197.61 L209.44 199.57 L210.75 200.88M221.87 189.11 L221.22 187.8 L219.25 187.14 L217.29 187.14 L215.33 187.8 L214.68 189.11 L215.33 190.41 L216.64 191.07 L219.91 191.72 L221.22 192.38 L221.87 193.68 L221.87 194.34 L221.22 195.65 L219.25 196.3 L217.29 196.3 L215.33 195.65 L214.68 194.34M226.45 187.14 L226.45 196.3M226.45 189.76 L228.41 187.8 L229.72 187.14 L231.68 187.14 L232.99 187.8 L233.64 189.76 L233.64 196.3M233.64 189.76 L235.6 187.8 L236.91 187.14 L238.87 187.14 L240.18 187.8 L240.84 189.76 L240.84 196.3M246.72 182.57 L246.72 193.68 L247.38 195.65 L248.68 196.3 L249.99 196.3M244.76 187.14 L249.34 187.14M257.19 182.57 L255.22 183.22 L253.92 185.18 L253.26 188.45 L253.26 190.41 L253.92 193.68 L255.22 195.65 L257.19 196.3 L258.49 196.3 L260.46 195.65 L261.76 193.68 L262.42 190.41 L262.42 188.45 L261.76 185.18 L260.46 183.22 L258.49 182.57 L257.19 182.57M268.3 185.18 L269.61 184.53 L271.57 182.57 L271.57 196.3M279.42 179.95 L280.73 181.26 L282.04 183.22 L283.35 185.84 L284 189.11 L284 191.72 L283.35 194.99 L282.04 197.61 L280.73 199.57 L279.42 200.88M155.82 336.07 L155.82 349.8M155.82 349.8 L163.66 349.8M170.2 336.07 L168.24 336.72 L166.93 338.68 L166.28 341.95 L166.28 343.91 L166.93 347.18 L168.24 349.15 L170.2 349.8 L171.51 349.8 L173.47 349.15 L174.78 347.18 L175.44 343.91 L175.44 341.95 L174.78 338.68 L173.47 336.72 L171.51 336.07 L170.2 336.07M187.21 336.07 L180.67 336.07 L180.01 341.95 L180.67 341.3 L182.63 340.64 L184.59 340.64 L186.55 341.3 L187.86 342.61 L188.52 344.57 L188.52 345.88 L187.86 347.84 L186.55 349.15 L184.59 349.8 L182.63 349.8 L180.67 349.15 L180.01 348.49 L179.36 347.18M196.36 336.07 L194.4 336.72 L193.09 338.68 L192.44 341.95 L192.44 343.91 L193.09 347.18 L194.4 349.15 L196.36 349.8 L197.67 349.8 L199.63 349.15 L200.94 347.18 L201.6 343.91 L201.6 341.95 L200.94 338.68 L199.63 336.72 L197.67 336.07 L196.36 336.07M210.75 333.45 L209.44 334.76 L208.14 336.72 L206.83 339.34 L206.17 342.61 L206.17 345.22 L206.83 348.49 L208.14 351.11 L209.44 353.07 L210.75 354.38M221.87 342.61 L221.22 341.3 L219.25 340.64 L217.29 340.64 L215.33 341.3 L214.68 342.61 L215.33 343.91 L216.64 344.57 L219.91 345.22 L221.22 345.88 L221.87 347.18 L221.87 347.84 L221.22 349.15 L219.25 349.8 L217.29 349.8 L215.33 349.15 L214.68 347.84M226.45 340.64 L226.45 349.8M226.45 343.26 L228.41 341.3 L229.72 340.64 L231.68 340.64 L232.99 341.3 L233.64 343.26 L233.64 349.8M233.64 343.26 L235.6 341.3 L236.91 340.64 L238.87 340.64 L240.18 341.3 L240.84 343.26 L240.84 349.8M246.72 336.07 L246.72 347.18 L247.38 349.15 L248.68 349.8 L249.99 349.8M244.76 340.64 L249.34 340.64M257.19 336.07 L255.22 336.72 L253.92 338.68 L253.26 341.95 L253.26 343.91 L253.92 347.18 L255.22 349.15 L257.19 349.8 L258.49 349.8 L260.46 349.15 L261.76 347.18 L262.42 343.91 L262.42 341.95 L261.76 338.68 L260.46 336.72 L258.49 336.07 L257.19 336.07M268.3 338.68 L269.61 338.03 L271.57 336.07 L271.57 349.8M279.42 333.45 L280.73 334.76 L282.04 336.72 L283.35 339.34 L284 342.61 L284 345.22 L283.35 348.49 L282.04 351.11 L280.73 353.07 L279.42 354.38M155.82 490.07 L155.82 503.8M155.82 503.8 L163.66 503.8M168.24 492.68 L169.55 492.03 L171.51 490.07 L171.51 503.8M183.28 490.07 L181.32 490.72 L180.01 492.68 L179.36 495.95 L179.36 497.91 L180.01 501.18 L181.32 503.15 L183.28 503.8 L184.59 503.8 L186.55 503.15 L187.86 501.18 L188.52 497.91 L188.52 495.95 L187.86 492.68 L186.55 490.72 L184.59 490.07 L183.28 490.07M196.36 490.07 L194.4 490.72 L193.09 492.68 L192.44 495.95 L192.44 497.91 L193.09 501.18 L194.4 503.15 L196.36 503.8 L197.67 503.8 L199.63 503.15 L200.94 501.18 L201.6 497.91 L201.6 495.95 L200.94 492.68 L199.63 490.72 L197.67 490.07 L196.36 490.07M210.75 487.45 L209.44 488.76 L208.14 490.72 L206.83 493.34 L206.17 496.61 L206.17 499.22 L206.83 502.49 L208.14 505.11 L209.44 507.07 L210.75 508.38M221.87 496.61 L221.22 495.3 L219.25 494.64 L217.29 494.64 L215.33 495.3 L214.68 496.61 L215.33 497.91 L216.64 498.57 L219.91 499.22 L221.22 499.88 L221.87 501.18 L221.87 501.84 L221.22 503.15 L219.25 503.8 L217.29 503.8 L215.33 503.15 L214.68 501.84M226.45 494.64 L226.45 503.8M226.45 497.26 L228.41 495.3 L229.72 494.64 L231.68 494.64 L232.99 495.3 L233.64 497.26 L233.64 503.8M233.64 497.26 L235.6 495.3 L236.91 494.64 L238.87 494.64 L240.18 495.3 L240.84 497.26 L240.84 503.8M246.72 490.07 L246.72 501.18 L247.38 503.15 L248.68 503.8 L249.99 503.8M244.76 494.64 L249.34 494.64M257.19 490.07 L255.22 490.72 L253.92 492.68 L253.26 495.95 L253.26 497.91 L253.92 501.18 L255.22 503.15 L257.19 503.8 L258.49 503.8 L260.46 503.15 L261.76 501.18 L262.42 497.91 L262.42 495.95 L261.76 492.68 L260.46 490.72 L258.49 490.07 L257.19 490.07M268.3 492.68 L269.61 492.03 L271.57 490.07 L271.57 503.8M279.42 487.45 L280.73 488.76 L282.04 490.72 L283.35 493.34 L284 496.61 L284 499.22 L283.35 502.49 L282.04 505.11 L280.73 507.07 L279.42 508.38M492.12 182.57 L492.12 196.3M492.12 196.3 L499.96 196.3M506.5 182.57 L504.54 183.22 L503.23 185.18 L502.58 188.45 L502.58 190.41 L503.23 193.68 L504.54 195.65 L506.5 196.3 L507.81 196.3 L509.77 195.65 L511.08 193.68 L511.74 190.41 L511.74 188.45 L511.08 185.18 L509.77 183.22 L507.81 182.57 L506.5 182.57M516.31 185.84 L516.31 185.18 L516.97 183.87 L517.62 183.22 L518.93 182.57 L521.55 182.57 L522.85 183.22 L523.51 183.87 L524.16 185.18 L524.16 186.49 L523.51 187.8 L522.2 189.76 L515.66 196.3 L524.82 196.3M536.59 182.57 L530.05 182.57 L529.39 188.45 L530.05 187.8 L532.01 187.14 L533.97 187.14 L535.93 187.8 L537.24 189.11 L537.9 191.07 L537.9 192.38 L537.24 194.34 L535.93 195.65 L533.97 196.3 L532.01 196.3 L530.05 195.65 L529.39 194.99 L528.74 193.68M547.05 179.95 L545.74 181.26 L544.44 183.22 L543.13 185.84 L542.47 189.11 L542.47 191.72 L543.13 194.99 L544.44 197.61 L545.74 199.57 L547.05 200.88M558.17 189.11 L557.52 187.8 L555.55 187.14 L553.59 187.14 L551.63 187.8 L550.98 189.11 L551.63 190.41 L552.94 191.07 L556.21 191.72 L557.52 192.38 L558.17 193.68 L558.17 194.34 L557.52 195.65 L555.55 196.3 L553.59 196.3 L551.63 195.65 L550.98 194.34M562.75 187.14 L562.75 196.3M562.75 189.76 L564.71 187.8 L566.02 187.14 L567.98 187.14 L569.29 187.8 L569.94 189.76 L569.94 196.3M569.94 189.76 L571.9 187.8 L573.21 187.14 L575.17 187.14 L576.48 187.8 L577.14 189.76 L577.14 196.3M583.02 182.57 L583.02 193.68 L583.68 195.65 L584.98 196.3 L586.29 196.3M581.06 187.14 L585.64 187.14M593.49 182.57 L591.52 183.22 L590.22 185.18 L589.56 188.45 L589.56 190.41 L590.22 193.68 L591.52 195.65 L593.49 196.3 L594.79 196.3 L596.76 195.65 L598.06 193.68 L598.72 190.41 L598.72 188.45 L598.06 185.18 L596.76 183.22 L594.79 182.57 L593.49 182.57M603.3 185.84 L603.3 185.18 L603.95 183.87 L604.6 183.22 L605.91 182.57 L608.53 182.57 L609.84 183.22 L610.49 183.87 L611.14 185.18 L611.14 186.49 L610.49 187.8 L609.18 189.76 L602.64 196.3 L611.8 196.3M616.38 190.41 L628.15 190.41M639.92 189.11 L639.27 187.8 L637.3 187.14 L635.34 187.14 L633.38 187.8 L632.73 189.11 L633.38 190.41 L634.69 191.07 L637.96 191.72 L639.27 192.38 L639.92 193.68 L639.92 194.34 L639.27 195.65 L637.3 196.3 L635.34 196.3 L633.38 195.65 L632.73 194.34M644.5 187.14 L644.5 196.3M644.5 189.76 L646.46 187.8 L647.77 187.14 L649.73 187.14 L651.04 187.8 L651.69 189.76 L651.69 196.3M651.69 189.76 L653.65 187.8 L654.96 187.14 L656.92 187.14 L658.23 187.8 L658.89 189.76 L658.89 196.3M664.77 182.57 L664.77 193.68 L665.43 195.65 L666.73 196.3 L668.04 196.3M662.81 187.14 L667.39 187.14M675.24 182.57 L673.27 183.22 L671.97 185.18 L671.31 188.45 L671.31 190.41 L671.97 193.68 L673.27 195.65 L675.24 196.3 L676.54 196.3 L678.51 195.65 L679.81 193.68 L680.47 190.41 L680.47 188.45 L679.81 185.18 L678.51 183.22 L676.54 182.57 L675.24 182.57M685.05 185.84 L685.05 185.18 L685.7 183.87 L686.35 183.22 L687.66 182.57 L690.28 182.57 L691.59 183.22 L692.24 183.87 L692.89 185.18 L692.89 186.49 L692.24 187.8 L690.93 189.76 L684.39 196.3 L693.55 196.3M697.47 179.95 L698.78 181.26 L700.09 183.22 L701.4 185.84 L702.05 189.11 L702.05 191.72 L701.4 194.99 L700.09 197.61 L698.78 199.57 L697.47 200.88M492.12 336.07 L492.12 349.8M492.12 349.8 L499.96 349.8M506.5 336.07 L504.54 336.72 L503.23 338.68 L502.58 341.95 L502.58 343.91 L503.23 347.18 L504.54 349.15 L506.5 349.8 L507.81 349.8 L509.77 349.15 L511.08 347.18 L511.74 343.91 L511.74 341.95 L511.08 338.68 L509.77 336.72 L507.81 336.07 L506.5 336.07M516.31 339.34 L516.31 338.68 L516.97 337.37 L517.62 336.72 L518.93 336.07 L521.55 336.07 L522.85 336.72 L523.51 337.37 L524.16 338.68 L524.16 339.99 L523.51 341.3 L522.2 343.26 L515.66 349.8 L524.82 349.8M536.59 336.07 L530.05 336.07 L529.39 341.95 L530.05 341.3 L532.01 340.64 L533.97 340.64 L535.93 341.3 L537.24 342.61 L537.9 344.57 L537.9 345.88 L537.24 347.84 L535.93 349.15 L533.97 349.8 L532.01 349.8 L530.05 349.15 L529.39 348.49 L528.74 347.18M547.05 333.45 L545.74 334.76 L544.44 336.72 L543.13 339.34 L542.47 342.61 L542.47 345.22 L543.13 348.49 L544.44 351.11 L545.74 353.07 L547.05 354.38M558.17 342.61 L557.52 341.3 L555.55 340.64 L553.59 340.64 L551.63 341.3 L550.98 342.61 L551.63 343.91 L552.94 344.57 L556.21 345.22 L557.52 345.88 L558.17 347.18 L558.17 347.84 L557.52 349.15 L555.55 349.8 L553.59 349.8 L551.63 349.15 L550.98 347.84M562.75 340.64 L562.75 349.8M562.75 343.26 L564.71 341.3 L566.02 340.64 L567.98 340.64 L569.29 341.3 L569.94 343.26 L569.94 349.8M569.94 343.26 L571.9 341.3 L573.21 340.64 L575.17 340.64 L576.48 341.3 L577.14 343.26 L577.14 349.8M583.02 336.07 L583.02 347.18 L583.68 349.15 L584.98 349.8 L586.29 349.8M581.06 340.64 L585.64 340.64M593.49 336.07 L591.52 336.72 L590.22 338.68 L589.56 341.95 L589.56 343.91 L590.22 347.18 L591.52 349.15 L593.49 349.8 L594.79 349.8 L596.76 349.15 L598.06 347.18 L598.72 343.91 L598.72 341.95 L598.06 338.68 L596.76 336.72 L594.79 336.07 L593.49 336.07M603.3 339.34 L603.3 338.68 L603.95 337.37 L604.6 336.72 L605.91 336.07 L608.53 336.07 L609.84 336.72 L610.49 337.37 L611.14 338.68 L611.14 339.99 L610.49 341.3 L609.18 343.26 L602.64 349.8 L611.8 349.8M616.38 343.91 L628.15 343.91M639.92 342.61 L639.27 341.3 L637.3 340.64 L635.34 340.64 L633.38 341.3 L632.73 342.61 L633.38 343.91 L634.69 344.57 L637.96 345.22 L639.27 345.88 L639.92 347.18 L639.92 347.84 L639.27 349.15 L637.3 349.8 L635.34 349.8 L633.38 349.15 L632.73 347.84M644.5 340.64 L644.5 349.8M644.5 343.26 L646.46 341.3 L647.77 340.64 L649.73 340.64 L651.04 341.3 L651.69 343.26 L651.69 349.8M651.69 343.26 L653.65 341.3 L654.96 340.64 L656.92 340.64 L658.23 341.3 L658.89 343.26 L658.89 349.8M664.77 336.07 L664.77 347.18 L665.43 349.15 L666.73 349.8 L668.04 349.8M662.81 340.64 L667.39 340.64M675.24 336.07 L673.27 336.72 L671.97 338.68 L671.31 341.95 L671.31 343.91 L671.97 347.18 L673.27 349.15 L675.24 349.8 L676.54 349.8 L678.51 349.15 L679.81 347.18 L680.47 343.91 L680.47 341.95 L679.81 338.68 L678.51 336.72 L676.54 336.07 L675.24 336.07M690.93 336.07 L684.39 345.22 L694.2 345.22M690.93 336.07 L690.93 349.8M697.47 333.45 L698.78 334.76 L700.09 336.72 L701.4 339.34 L702.05 342.61 L702.05 345.22 L701.4 348.49 L700.09 351.11 L698.78 353.07 L697.47 354.38M492.12 490.07 L492.12 503.8M492.12 503.8 L499.96 503.8M506.5 490.07 L504.54 490.72 L503.23 492.68 L502.58 495.95 L502.58 497.91 L503.23 501.18 L504.54 503.15 L506.5 503.8 L507.81 503.8 L509.77 503.15 L511.08 501.18 L511.74 497.91 L511.74 495.95 L511.08 492.68 L509.77 490.72 L507.81 490.07 L506.5 490.07M516.31 493.34 L516.31 492.68 L516.97 491.37 L517.62 490.72 L518.93 490.07 L521.55 490.07 L522.85 490.72 L523.51 491.37 L524.16 492.68 L524.16 493.99 L523.51 495.3 L522.2 497.26 L515.66 503.8 L524.82 503.8M536.59 490.07 L530.05 490.07 L529.39 495.95 L530.05 495.3 L532.01 494.64 L533.97 494.64 L535.93 495.3 L537.24 496.61 L537.9 498.57 L537.9 499.88 L537.24 501.84 L535.93 503.15 L533.97 503.8 L532.01 503.8 L530.05 503.15 L529.39 502.49 L528.74 501.18M547.05 487.45 L545.74 488.76 L544.44 490.72 L543.13 493.34 L542.47 496.61 L542.47 499.22 L543.13 502.49 L544.44 505.11 L545.74 507.07 L547.05 508.38M558.17 496.61 L557.52 495.3 L555.55 494.64 L553.59 494.64 L551.63 495.3 L550.98 496.61 L551.63 497.91 L552.94 498.57 L556.21 499.22 L557.52 499.88 L558.17 501.18 L558.17 501.84 L557.52 503.15 L555.55 503.8 L553.59 503.8 L551.63 503.15 L550.98 501.84M562.75 494.64 L562.75 503.8M562.75 497.26 L564.71 495.3 L566.02 494.64 L567.98 494.64 L569.29 495.3 L569.94 497.26 L569.94 503.8M569.94 497.26 L571.9 495.3 L573.21 494.64 L575.17 494.64 L576.48 495.3 L577.14 497.26 L577.14 503.8M583.02 490.07 L583.02 501.18 L583.68 503.15 L584.98 503.8 L586.29 503.8M581.06 494.64 L585.64 494.64M593.49 490.07 L591.52 490.72 L590.22 492.68 L589.56 495.95 L589.56 497.91 L590.22 501.18 L591.52 503.15 L593.49 503.8 L594.79 503.8 L596.76 503.15 L598.06 501.18 L598.72 497.91 L598.72 495.95 L598.06 492.68 L596.76 490.72 L594.79 490.07 L593.49 490.07M603.3 493.34 L603.3 492.68 L603.95 491.37 L604.6 490.72 L605.91 490.07 L608.53 490.07 L609.84 490.72 L610.49 491.37 L611.14 492.68 L611.14 493.99 L610.49 495.3 L609.18 497.26 L602.64 503.8 L611.8 503.8M616.38 497.91 L628.15 497.91M639.92 496.61 L639.27 495.3 L637.3 494.64 L635.34 494.64 L633.38 495.3 L632.73 496.61 L633.38 497.91 L634.69 498.57 L637.96 499.22 L639.27 499.88 L639.92 501.18 L639.92 501.84 L639.27 503.15 L637.3 503.8 L635.34 503.8 L633.38 503.15 L632.73 501.84M644.5 494.64 L644.5 503.8M644.5 497.26 L646.46 495.3 L647.77 494.64 L649.73 494.64 L651.04 495.3 L651.69 497.26 L651.69 503.8M651.69 497.26 L653.65 495.3 L654.96 494.64 L656.92 494.64 L658.23 495.3 L658.89 497.26 L658.89 503.8M664.77 490.07 L664.77 501.18 L665.43 503.15 L666.73 503.8 L668.04 503.8M662.81 494.64 L667.39 494.64M675.24 490.07 L673.27 490.72 L671.97 492.68 L671.31 495.95 L671.31 497.91 L671.97 501.18 L673.27 503.15 L675.24 503.8 L676.54 503.8 L678.51 503.15 L679.81 501.18 L680.47 497.91 L680.47 495.95 L679.81 492.68 L678.51 490.72 L676.54 490.07 L675.24 490.07M687.66 490.07 L685.7 490.72 L685.05 492.03 L685.05 493.34 L685.7 494.64 L687.01 495.3 L689.62 495.95 L691.59 496.61 L692.89 497.91 L693.55 499.22 L693.55 501.18 L692.89 502.49 L692.24 503.15 L690.28 503.8 L687.66 503.8 L685.7 503.15 L685.05 502.49 L684.39 501.18 L684.39 499.22 L685.05 497.91 L686.35 496.61 L688.32 495.95 L690.93 495.3 L692.24 494.64 L692.89 493.34 L692.89 492.03 L692.24 490.72 L690.28 490.07 L687.66 490.07M697.47 487.45 L698.78 488.76 L700.09 490.72 L701.4 493.34 L702.05 496.61 L702.05 499.22 L701.4 502.49 L700.09 505.11 L698.78 507.07 L697.47 508.38M227.59 558.2 L227.59 573.17M239.9 566.17 L238.61 564.88 L237.31 564.23 L235.37 564.23 L234.07 564.88 L232.78 566.17 L232.13 568.12 L232.13 569.41 L232.78 571.36 L234.07 572.65 L235.37 573.3 L237.31 573.3 L238.61 572.65 L239.9 571.36M247.03 564.23 L245.74 564.88 L244.44 566.17 L243.79 568.12 L243.79 569.41 L244.44 571.36 L245.74 572.65 L247.03 573.3 L248.98 573.3 L250.27 572.65 L251.57 571.36 L252.22 569.41 L252.22 568.12 L251.57 566.17 L250.27 564.88 L248.98 564.23 L247.03 564.23M263.23 566.17 L262.58 564.88 L260.64 564.23 L258.7 564.23 L256.75 564.88 L256.1 566.17 L256.75 567.47 L258.05 568.12 L261.29 568.76 L262.58 569.41 L263.23 570.71 L263.23 571.36 L262.58 572.65 L260.64 573.3 L258.7 573.3 L256.75 572.65 L256.1 571.36M305.59 558.2 L305.59 573.17M563.89 558.2 L563.89 573.17M576.2 566.17 L574.91 564.88 L573.61 564.23 L571.67 564.23 L570.37 564.88 L569.08 566.17 L568.43 568.12 L568.43 569.41 L569.08 571.36 L570.37 572.65 L571.67 573.3 L573.61 573.3 L574.91 572.65 L576.2 571.36M583.33 564.23 L582.04 564.88 L580.74 566.17 L580.09 568.12 L580.09 569.41 L580.74 571.36 L582.04 572.65 L583.33 573.3 L585.28 573.3 L586.57 572.65 L587.87 571.36 L588.52 569.41 L588.52 568.12 L587.87 566.17 L586.57 564.88 L585.28 564.23 L583.33 564.23M599.53 566.17 L598.88 564.88 L596.94 564.23 L595 564.23 L593.05 564.88 L592.4 566.17 L593.05 567.47 L594.35 568.12 L597.59 568.76 L598.88 569.41 L599.53 570.71 L599.53 571.36 L598.88 572.65 L596.94 573.3 L595 573.3 L593.05 572.65 L592.4 571.36M641.89 558.2 L641.89 573.17" stroke-width="1.5"/>
<path d="M280.95 565.59 L280.08 568.5 L278.91 572.33 L277.46 577.84M279.2 571.23 L279.64 572.52 L280.95 573.17 L282.54 573.17 L284.29 572.39 L285.74 570.71 L286.9 568.38 L287.77 565.59M287.19 567.47 L286.46 570.06 L286.32 572 L286.9 573.04 L287.91 573.17 L289.22 572.26 L290.09 570.71M617.25 565.59 L616.38 568.5 L615.21 572.33 L613.76 577.84M615.5 571.23 L615.94 572.52 L617.25 573.17 L618.84 573.17 L620.59 572.39 L622.04 570.71 L623.2 568.38 L624.07 565.59M623.49 567.47 L622.76 570.06 L622.62 572 L623.2 573.04 L624.21 573.17 L625.52 572.26 L626.39 570.71" stroke-width="2.0"/>
<g transform="translate(66.8 345.9) rotate(-90)"><path d="M2.59 -9.07 L2.59 4.54M2.59 -7.13 L3.89 -8.42 L5.18 -9.07 L7.13 -9.07 L8.42 -8.42 L9.72 -7.13 L10.37 -5.18 L10.37 -3.89 L9.72 -1.94 L8.42 -0.65 L7.13 0 L5.18 0 L3.89 -0.65 L2.59 -1.94M19.44 -16.2 L18.14 -14.9 L16.85 -12.96 L15.55 -10.37 L14.9 -7.13 L14.9 -4.54 L15.55 -1.3 L16.85 1.3 L18.14 3.24 L19.44 4.54M23.98 -15.1 L23.98 -0.13M36.29 -7.13 L34.99 -8.42 L33.7 -9.07 L31.75 -9.07 L30.46 -8.42 L29.16 -7.13 L28.51 -5.18 L28.51 -3.89 L29.16 -1.94 L30.46 -0.65 L31.75 0 L33.7 0 L34.99 -0.65 L36.29 -1.94M43.42 -9.07 L42.12 -8.42 L40.82 -7.13 L40.18 -5.18 L40.18 -3.89 L40.82 -1.94 L42.12 -0.65 L43.42 0 L45.36 0 L46.66 -0.65 L47.95 -1.94 L48.6 -3.89 L48.6 -5.18 L47.95 -7.13 L46.66 -8.42 L45.36 -9.07 L43.42 -9.07M59.62 -7.13 L58.97 -8.42 L57.02 -9.07 L55.08 -9.07 L53.14 -8.42 L52.49 -7.13 L53.14 -5.83 L54.43 -5.18 L57.67 -4.54 L58.97 -3.89 L59.62 -2.59 L59.62 -1.94 L58.97 -0.65 L57.02 0 L55.08 0 L53.14 -0.65 L52.49 -1.94M102.58 -15.1 L102.58 -0.13M107.11 -16.2 L108.41 -14.9 L109.7 -12.96 L111 -10.37 L111.65 -7.13 L111.65 -4.54 L111 -1.3 L109.7 1.3 L108.41 3.24 L107.11 4.54" stroke-width="1.5"/><path d="M77.33 -7.71 L76.46 -4.8 L75.3 -0.97 L73.85 4.54M75.59 -2.07 L76.02 -0.78 L77.33 -0.13 L78.93 -0.13 L80.67 -0.91 L82.12 -2.59 L83.28 -4.92 L84.15 -7.71M83.57 -5.83 L82.85 -3.24 L82.7 -1.3 L83.28 -0.26 L84.3 -0.13 L85.6 -1.04 L86.48 -2.59" stroke-width="2.0"/></g>
<line x1="213.5" y1="77.5" x2="276.1" y2="77.5" stroke="#00ff00" stroke-width="2.15" stroke-linecap="butt"/>
<line x1="213.5" y1="94" x2="276.1" y2="94" stroke="#00ff00" stroke-width="2.15" stroke-dasharray="9.6 9.0" stroke-linecap="butt"/>
<line x1="213.5" y1="110.2" x2="276.1" y2="110.2" stroke="#00ff00" stroke-width="2.15" stroke-dasharray="9.6 4.6 2.5 4.5" stroke-linecap="butt"/>
<path d="M291.43 68.75 L290.37 69.81 L289.31 71.4 L288.25 73.52 L287.72 76.17 L287.72 78.29 L288.25 80.94 L289.31 83.06 L290.37 84.65 L291.43 85.71M354.59 68.75 L355.65 69.81 L356.71 71.4 L357.77 73.52 L358.3 76.17 L358.3 78.29 L357.77 80.94 L356.71 83.06 L355.65 84.65 L354.59 85.71M291.43 85.25 L290.37 86.31 L289.31 87.9 L288.25 90.02 L287.72 92.67 L287.72 94.79 L288.25 97.44 L289.31 99.56 L290.37 101.15 L291.43 102.21M354.59 85.25 L355.65 86.31 L356.71 87.9 L357.77 90.02 L358.3 92.67 L358.3 94.79 L357.77 97.44 L356.71 99.56 L355.65 101.15 L354.59 102.21M291.43 101.45 L290.37 102.51 L289.31 104.1 L288.25 106.22 L287.72 108.87 L287.72 110.99 L288.25 113.64 L289.31 115.76 L290.37 117.35 L291.43 118.41M354.59 101.45 L355.65 102.51 L356.71 104.1 L357.77 106.22 L358.3 108.87 L358.3 110.99 L357.77 113.64 L356.71 115.76 L355.65 117.35 L354.59 118.41" stroke-width="1.5"/>
<path d="M315.48 81.32 L315 81.8 L314.52 81.32 L315 80.84 L315.48 81.32 L315.48 82.28 L315 83.24 L314.52 83.72M328.19 77.44 L334.12 77.44 L334.12 76.45 L333.63 75.46 L333.13 74.97 L332.14 74.47 L330.66 74.47 L329.67 74.97 L328.68 75.96 L328.19 77.44 L328.19 78.43 L328.68 79.92 L329.67 80.91 L330.66 81.4 L332.14 81.4 L333.13 80.91 L334.12 79.92M315.48 97.82 L315 98.3 L314.52 97.82 L315 97.34 L315.48 97.82 L315.48 98.78 L315 99.74 L314.52 100.22M328.19 93.94 L334.12 93.94 L334.12 92.95 L333.63 91.96 L333.13 91.47 L332.14 90.97 L330.66 90.97 L329.67 91.47 L328.68 92.46 L328.19 93.94 L328.19 94.93 L328.68 96.42 L329.67 97.41 L330.66 97.9 L332.14 97.9 L333.13 97.41 L334.12 96.42M315.48 114.02 L315 114.5 L314.52 114.02 L315 113.54 L315.48 114.02 L315.48 114.98 L315 115.94 L314.52 116.42M328.19 110.14 L334.12 110.14 L334.12 109.15 L333.63 108.16 L333.13 107.67 L332.14 107.17 L330.66 107.17 L329.67 107.67 L328.68 108.66 L328.19 110.14 L328.19 111.13 L328.68 112.62 L329.67 113.61 L330.66 114.1 L332.14 114.1 L333.13 113.61 L334.12 112.62" stroke-width="1.5"/>
<path d="M297.36 74.68 L296.21 75.35 L295.34 76.6 L294.96 78.23 L295.06 79.77 L295.63 80.92 L296.59 81.4 L297.55 81.4 L298.51 80.82 L299.18 79.67 L299.57 78.04 L299.66 76.89M299.18 79.67 L299.38 80.82 L300.14 81.4 L301.1 81.4 L302.16 80.82 L303.02 79.67 L303.6 78.04 L303.7 76.6 L303.31 75.35 L302.45 74.68M297.36 91.18 L296.21 91.85 L295.34 93.1 L294.96 94.73 L295.06 96.27 L295.63 97.42 L296.59 97.9 L297.55 97.9 L298.51 97.32 L299.18 96.17 L299.57 94.54 L299.66 93.39M299.18 96.17 L299.38 97.32 L300.14 97.9 L301.1 97.9 L302.16 97.32 L303.02 96.17 L303.6 94.54 L303.7 93.1 L303.31 91.85 L302.45 91.18M297.36 107.38 L296.21 108.05 L295.34 109.3 L294.96 110.93 L295.06 112.47 L295.63 113.62 L296.59 114.1 L297.55 114.1 L298.51 113.52 L299.18 112.37 L299.57 110.74 L299.66 109.59M299.18 112.37 L299.38 113.52 L300.14 114.1 L301.1 114.1 L302.16 113.52 L303.02 112.37 L303.6 110.74 L303.7 109.3 L303.31 108.05 L302.45 107.38" stroke-width="1.6"/>
<path d="M307.58 78.44 L307.58 86M307.58 82.04 L308.22 81.32 L308.86 80.96 L309.82 80.96 L310.46 81.32 L311.1 82.04 L311.42 83.12 L311.42 83.84 L311.1 84.92 L310.46 85.64 L309.82 86 L308.86 86 L308.22 85.64 L307.58 84.92M339.12 79.88 L339.76 79.52 L340.72 78.44 L340.72 86M345.52 85.64 L345.2 86 L344.88 85.64 L345.2 85.28 L345.52 85.64 L345.52 86.36 L345.2 87.08 L344.88 87.44M348.08 78.44 L348.08 86M348.08 82.04 L348.72 81.32 L349.36 80.96 L350.32 80.96 L350.96 81.32 L351.6 82.04 L351.92 83.12 L351.92 83.84 L351.6 84.92 L350.96 85.64 L350.32 86 L349.36 86 L348.72 85.64 L348.08 84.92M307.58 94.94 L307.58 102.5M307.58 98.54 L308.22 97.82 L308.86 97.46 L309.82 97.46 L310.46 97.82 L311.1 98.54 L311.42 99.62 L311.42 100.34 L311.1 101.42 L310.46 102.14 L309.82 102.5 L308.86 102.5 L308.22 102.14 L307.58 101.42M338.48 96.74 L338.48 96.38 L338.8 95.66 L339.12 95.3 L339.76 94.94 L341.04 94.94 L341.68 95.3 L342 95.66 L342.32 96.38 L342.32 97.1 L342 97.82 L341.36 98.9 L338.16 102.5 L342.64 102.5M345.52 102.14 L345.2 102.5 L344.88 102.14 L345.2 101.78 L345.52 102.14 L345.52 102.86 L345.2 103.58 L344.88 103.94M348.08 94.94 L348.08 102.5M348.08 98.54 L348.72 97.82 L349.36 97.46 L350.32 97.46 L350.96 97.82 L351.6 98.54 L351.92 99.62 L351.92 100.34 L351.6 101.42 L350.96 102.14 L350.32 102.5 L349.36 102.5 L348.72 102.14 L348.08 101.42M307.58 111.14 L307.58 118.7M307.58 114.74 L308.22 114.02 L308.86 113.66 L309.82 113.66 L310.46 114.02 L311.1 114.74 L311.42 115.82 L311.42 116.54 L311.1 117.62 L310.46 118.34 L309.82 118.7 L308.86 118.7 L308.22 118.34 L307.58 117.62M338.8 111.14 L342.32 111.14 L340.4 114.02 L341.36 114.02 L342 114.38 L342.32 114.74 L342.64 115.82 L342.64 116.54 L342.32 117.62 L341.68 118.34 L340.72 118.7 L339.76 118.7 L338.8 118.34 L338.48 117.98 L338.16 117.26M345.52 118.34 L345.2 118.7 L344.88 118.34 L345.2 117.98 L345.52 118.34 L345.52 119.06 L345.2 119.78 L344.88 120.14M348.08 111.14 L348.08 118.7M348.08 114.74 L348.72 114.02 L349.36 113.66 L350.32 113.66 L350.96 114.02 L351.6 114.74 L351.92 115.82 L351.92 116.54 L351.6 117.62 L350.96 118.34 L350.32 118.7 L349.36 118.7 L348.72 118.34 L348.08 117.62" stroke-width="1.5"/>
<line x1="213.5" y1="231.3" x2="276.1" y2="231.3" stroke="#ff0000" stroke-width="1.0" stroke-linecap="butt"/>
<line x1="213.5" y1="247.8" x2="276.1" y2="247.8" stroke="#ff0000" stroke-width="1.0" stroke-dasharray="9.6 8.8" stroke-linecap="butt"/>
<line x1="213.5" y1="264" x2="276.1" y2="264" stroke="#ff0000" stroke-width="1.0" stroke-dasharray="9.6 4.6 2.3 4.6" stroke-linecap="butt"/>
<path d="M291.43 222.55 L290.37 223.61 L289.31 225.2 L288.25 227.32 L287.72 229.97 L287.72 232.09 L288.25 234.74 L289.31 236.86 L290.37 238.45 L291.43 239.51M354.59 222.55 L355.65 223.61 L356.71 225.2 L357.77 227.32 L358.3 229.97 L358.3 232.09 L357.77 234.74 L356.71 236.86 L355.65 238.45 L354.59 239.51M291.43 239.05 L290.37 240.11 L289.31 241.7 L288.25 243.82 L287.72 246.47 L287.72 248.59 L288.25 251.24 L289.31 253.36 L290.37 254.95 L291.43 256.01M354.59 239.05 L355.65 240.11 L356.71 241.7 L357.77 243.82 L358.3 246.47 L358.3 248.59 L357.77 251.24 L356.71 253.36 L355.65 254.95 L354.59 256.01M291.43 255.25 L290.37 256.31 L289.31 257.9 L288.25 260.02 L287.72 262.67 L287.72 264.79 L288.25 267.44 L289.31 269.56 L290.37 271.15 L291.43 272.21M354.59 255.25 L355.65 256.31 L356.71 257.9 L357.77 260.02 L358.3 262.67 L358.3 264.79 L357.77 267.44 L356.71 269.56 L355.65 271.15 L354.59 272.21" stroke-width="1.5"/>
<path d="M315.48 235.12 L315 235.6 L314.52 235.12 L315 234.64 L315.48 235.12 L315.48 236.08 L315 237.04 L314.52 237.52M328.19 231.24 L334.12 231.24 L334.12 230.25 L333.63 229.26 L333.13 228.77 L332.14 228.27 L330.66 228.27 L329.67 228.77 L328.68 229.76 L328.19 231.24 L328.19 232.23 L328.68 233.72 L329.67 234.71 L330.66 235.2 L332.14 235.2 L333.13 234.71 L334.12 233.72M315.48 251.62 L315 252.1 L314.52 251.62 L315 251.14 L315.48 251.62 L315.48 252.58 L315 253.54 L314.52 254.02M328.19 247.74 L334.12 247.74 L334.12 246.75 L333.63 245.76 L333.13 245.27 L332.14 244.77 L330.66 244.77 L329.67 245.27 L328.68 246.26 L328.19 247.74 L328.19 248.73 L328.68 250.22 L329.67 251.21 L330.66 251.7 L332.14 251.7 L333.13 251.21 L334.12 250.22M315.48 267.82 L315 268.3 L314.52 267.82 L315 267.34 L315.48 267.82 L315.48 268.78 L315 269.74 L314.52 270.22M328.19 263.94 L334.12 263.94 L334.12 262.95 L333.63 261.96 L333.13 261.46 L332.14 260.97 L330.66 260.97 L329.67 261.46 L328.68 262.45 L328.19 263.94 L328.19 264.93 L328.68 266.41 L329.67 267.4 L330.66 267.9 L332.14 267.9 L333.13 267.4 L334.12 266.41" stroke-width="1.5"/>
<path d="M297.36 228.48 L296.21 229.15 L295.34 230.4 L294.96 232.03 L295.06 233.57 L295.63 234.72 L296.59 235.2 L297.55 235.2 L298.51 234.62 L299.18 233.47 L299.57 231.84 L299.66 230.69M299.18 233.47 L299.38 234.62 L300.14 235.2 L301.1 235.2 L302.16 234.62 L303.02 233.47 L303.6 231.84 L303.7 230.4 L303.31 229.15 L302.45 228.48M297.36 244.98 L296.21 245.65 L295.34 246.9 L294.96 248.53 L295.06 250.07 L295.63 251.22 L296.59 251.7 L297.55 251.7 L298.51 251.12 L299.18 249.97 L299.57 248.34 L299.66 247.19M299.18 249.97 L299.38 251.12 L300.14 251.7 L301.1 251.7 L302.16 251.12 L303.02 249.97 L303.6 248.34 L303.7 246.9 L303.31 245.65 L302.45 244.98M297.36 261.18 L296.21 261.85 L295.34 263.1 L294.96 264.73 L295.06 266.27 L295.63 267.42 L296.59 267.9 L297.55 267.9 L298.51 267.32 L299.18 266.17 L299.57 264.54 L299.66 263.39M299.18 266.17 L299.38 267.32 L300.14 267.9 L301.1 267.9 L302.16 267.32 L303.02 266.17 L303.6 264.54 L303.7 263.1 L303.31 261.85 L302.45 261.18" stroke-width="1.6"/>
<path d="M311.1 232.24 L311.1 239.8M311.1 235.84 L310.46 235.12 L309.82 234.76 L308.86 234.76 L308.22 235.12 L307.58 235.84 L307.26 236.92 L307.26 237.64 L307.58 238.72 L308.22 239.44 L308.86 239.8 L309.82 239.8 L310.46 239.44 L311.1 238.72M339.12 233.68 L339.76 233.32 L340.72 232.24 L340.72 239.8M345.52 239.44 L345.2 239.8 L344.88 239.44 L345.2 239.08 L345.52 239.44 L345.52 240.16 L345.2 240.88 L344.88 241.24M351.6 232.24 L351.6 239.8M351.6 235.84 L350.96 235.12 L350.32 234.76 L349.36 234.76 L348.72 235.12 L348.08 235.84 L347.76 236.92 L347.76 237.64 L348.08 238.72 L348.72 239.44 L349.36 239.8 L350.32 239.8 L350.96 239.44 L351.6 238.72M311.1 248.74 L311.1 256.3M311.1 252.34 L310.46 251.62 L309.82 251.26 L308.86 251.26 L308.22 251.62 L307.58 252.34 L307.26 253.42 L307.26 254.14 L307.58 255.22 L308.22 255.94 L308.86 256.3 L309.82 256.3 L310.46 255.94 L311.1 255.22M338.48 250.54 L338.48 250.18 L338.8 249.46 L339.12 249.1 L339.76 248.74 L341.04 248.74 L341.68 249.1 L342 249.46 L342.32 250.18 L342.32 250.9 L342 251.62 L341.36 252.7 L338.16 256.3 L342.64 256.3M345.52 255.94 L345.2 256.3 L344.88 255.94 L345.2 255.58 L345.52 255.94 L345.52 256.66 L345.2 257.38 L344.88 257.74M351.6 248.74 L351.6 256.3M351.6 252.34 L350.96 251.62 L350.32 251.26 L349.36 251.26 L348.72 251.62 L348.08 252.34 L347.76 253.42 L347.76 254.14 L348.08 255.22 L348.72 255.94 L349.36 256.3 L350.32 256.3 L350.96 255.94 L351.6 255.22M311.1 264.94 L311.1 272.5M311.1 268.54 L310.46 267.82 L309.82 267.46 L308.86 267.46 L308.22 267.82 L307.58 268.54 L307.26 269.62 L307.26 270.34 L307.58 271.42 L308.22 272.14 L308.86 272.5 L309.82 272.5 L310.46 272.14 L311.1 271.42M338.8 264.94 L342.32 264.94 L340.4 267.82 L341.36 267.82 L342 268.18 L342.32 268.54 L342.64 269.62 L342.64 270.34 L342.32 271.42 L341.68 272.14 L340.72 272.5 L339.76 272.5 L338.8 272.14 L338.48 271.78 L338.16 271.06M345.52 272.14 L345.2 272.5 L344.88 272.14 L345.2 271.78 L345.52 272.14 L345.52 272.86 L345.2 273.58 L344.88 273.94M351.6 264.94 L351.6 272.5M351.6 268.54 L350.96 267.82 L350.32 267.46 L349.36 267.46 L348.72 267.82 L348.08 268.54 L347.76 269.62 L347.76 270.34 L348.08 271.42 L348.72 272.14 L349.36 272.5 L350.32 272.5 L350.96 272.14 L351.6 271.42" stroke-width="1.5"/>
</g>
</svg>
</body></html>
